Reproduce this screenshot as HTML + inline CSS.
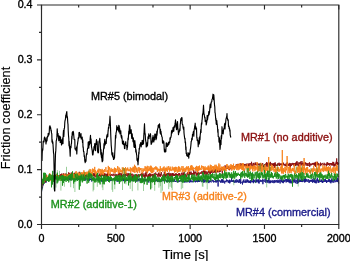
<!DOCTYPE html><html><head><meta charset="utf-8"><style>html,body{margin:0;padding:0;background:#fff;width:350px;height:261px;overflow:hidden}svg{display:block;will-change:transform}text{font-family:"Liberation Sans",sans-serif}</style></head><body><svg width="350" height="261" viewBox="0 0 350 261"><rect width="350" height="261" fill="#fff"/><g fill="none" stroke-width="0.9" stroke-linejoin="round"><polyline stroke="#181888" points="41.5,192.0 41.7,191.0 41.9,189.3 42.1,189.2 42.3,187.4 42.5,188.1 42.7,186.6 42.9,185.8 43.1,184.5 43.3,185.2 43.5,181.9 43.7,182.5 43.9,183.2 44.1,183.1 44.3,183.3 44.5,182.2 44.7,180.9 44.9,181.0 45.1,180.9 45.3,181.2 45.5,182.3 45.7,180.8 45.9,181.6 46.1,182.6 46.3,181.2 46.5,180.6 46.7,180.8 46.9,180.3 47.1,179.3 47.3,180.5 47.5,179.4 47.7,180.2 47.9,179.4 48.1,179.9 48.3,180.1 48.5,179.7 48.7,180.6 48.9,179.4 49.1,178.5 49.3,179.8 49.5,178.7 49.7,179.2 49.9,178.5 50.1,179.3 50.3,179.6 50.5,178.4 50.7,178.1 50.9,179.0 51.1,178.7 51.3,179.0 51.5,178.5 51.7,179.6 51.9,178.6 52.1,177.7 52.3,179.8 52.5,178.0 52.7,178.0 52.9,179.1 53.1,178.6 53.3,177.8 53.5,178.5 53.7,180.4 53.9,178.5 54.1,178.9 54.3,178.9 54.5,179.0 54.7,177.5 54.9,179.5 55.1,178.1 55.3,178.7 55.5,178.4 55.7,178.1 55.9,177.8 56.1,177.6 56.3,177.9 56.5,177.6 56.7,178.4 56.9,179.4 57.1,179.6 57.3,179.0 57.5,179.8 57.7,179.4 57.9,179.6 58.1,177.4 58.3,178.7 58.5,177.8 58.7,178.4 58.9,178.5 59.1,177.5 59.3,178.5 59.5,178.5 59.7,176.4 59.9,179.3 60.1,178.5 60.3,178.0 60.5,178.9 60.7,178.5 60.9,179.2 61.1,178.3 61.3,179.0 61.5,179.6 61.7,178.7 61.9,177.7 62.1,179.2 62.3,180.6 62.5,178.2 62.7,178.4 62.9,177.9 63.1,178.6 63.3,177.0 63.5,179.8 63.7,179.1 63.9,179.0 64.1,178.7 64.3,178.0 64.5,181.0 64.7,178.8 64.9,178.6 65.1,178.0 65.3,178.6 65.5,178.7 65.7,179.7 65.9,178.8 66.1,178.5 66.3,179.7 66.5,177.6 66.7,178.8 66.9,178.6 67.1,178.1 67.3,179.0 67.5,180.5 67.7,180.7 67.9,180.1 68.1,178.5 68.3,179.1 68.5,177.6 68.7,178.8 68.9,179.0 69.1,178.0 69.3,179.3 69.5,180.1 69.7,178.9 69.9,178.7 70.1,178.0 70.3,179.1 70.5,178.2 70.7,180.3 70.9,180.1 71.1,178.3 71.3,177.6 71.5,177.6 71.7,178.3 71.9,178.7 72.1,178.9 72.3,178.2 72.5,178.6 72.7,179.3 72.9,177.8 73.1,179.3 73.3,179.4 73.5,177.6 73.7,177.3 73.9,177.1 74.1,178.6 74.3,178.6 74.5,178.3 74.7,178.1 74.9,179.9 75.1,177.9 75.3,178.5 75.5,179.0 75.7,179.3 75.9,179.7 76.1,179.2 76.3,179.9 76.5,177.6 76.7,178.8 76.9,177.7 77.1,178.4 77.3,177.3 77.5,178.4 77.7,178.3 77.9,179.3 78.1,179.4 78.3,179.2 78.5,179.9 78.7,178.7 78.9,179.4 79.1,179.4 79.3,179.0 79.5,179.3 79.7,177.8 79.9,179.0 80.1,177.5 80.3,179.2 80.5,180.1 80.7,179.4 80.9,178.8 81.1,179.7 81.3,178.4 81.5,176.6 81.7,178.4 81.9,179.1 82.1,178.6 82.3,179.3 82.5,179.1 82.7,177.7 82.9,179.0 83.1,177.5 83.3,178.3 83.5,178.5 83.7,178.6 83.9,180.3 84.1,178.5 84.3,179.2 84.5,178.3 84.7,178.8 84.9,178.4 85.1,180.6 85.3,180.7 85.5,180.1 85.7,178.5 85.9,178.9 86.1,179.1 86.3,179.1 86.5,178.6 86.7,178.6 86.9,179.4 87.1,178.9 87.3,179.3 87.5,180.4 87.7,179.2 87.9,179.1 88.1,178.1 88.3,178.6 88.5,180.1 88.7,178.3 88.9,178.4 89.1,181.1 89.3,179.8 89.5,178.0 89.7,178.3 89.9,180.2 90.1,179.3 90.3,178.9 90.5,178.8 90.7,180.0 90.9,178.9 91.1,179.2 91.3,178.7 91.5,179.4 91.7,181.5 91.9,178.5 92.1,179.8 92.3,178.2 92.5,179.7 92.7,179.4 92.9,178.5 93.1,177.9 93.3,179.0 93.5,179.9 93.7,178.9 93.9,179.7 94.1,179.9 94.3,178.7 94.5,179.0 94.7,181.0 94.9,179.2 95.1,180.6 95.3,180.6 95.5,179.0 95.7,180.2 95.9,179.2 96.1,180.2 96.3,178.7 96.5,178.9 96.7,179.1 96.9,179.7 97.1,179.4 97.3,178.7 97.5,178.9 97.7,180.5 97.9,178.5 98.1,179.1 98.3,178.3 98.5,181.1 98.7,179.3 98.9,179.2 99.1,179.4 99.3,180.1 99.5,180.3 99.7,178.5 99.9,178.1 100.1,178.5 100.3,179.5 100.5,178.4 100.7,179.8 100.9,178.8 101.1,181.0 101.3,180.6 101.5,179.7 101.7,181.7 101.9,180.7 102.1,179.0 102.3,179.6 102.5,178.0 102.7,179.2 102.9,180.3 103.1,179.4 103.3,181.0 103.5,179.6 103.7,178.7 103.9,178.7 104.1,179.2 104.3,180.0 104.5,179.1 104.7,180.9 104.9,179.9 105.1,181.3 105.3,178.9 105.5,181.0 105.7,179.4 105.9,179.7 106.1,180.0 106.3,179.9 106.5,179.3 106.7,178.7 106.9,180.1 107.1,180.1 107.3,180.5 107.5,180.5 107.7,181.0 107.9,179.0 108.1,179.6 108.3,179.6 108.5,180.6 108.7,180.4 108.9,179.8 109.1,178.6 109.3,178.9 109.5,180.8 109.7,178.8 109.9,180.3 110.1,178.6 110.3,181.1 110.5,178.5 110.7,178.8 110.9,180.3 111.1,179.7 111.3,179.6 111.5,179.7 111.7,180.7 111.9,179.6 112.1,180.1 112.3,179.0 112.5,179.4 112.7,180.1 112.9,179.4 113.1,178.8 113.3,179.4 113.5,178.6 113.7,179.2 113.9,179.9 114.1,179.5 114.3,179.0 114.5,180.8 114.7,179.6 114.9,178.2 115.1,180.3 115.3,179.2 115.5,179.6 115.7,179.5 115.9,179.3 116.1,180.2 116.3,180.2 116.5,179.3 116.7,179.1 116.9,180.6 117.1,181.8 117.3,180.3 117.5,181.2 117.7,178.9 117.9,179.0 118.1,180.2 118.3,179.7 118.5,178.7 118.7,181.4 118.9,181.7 119.1,179.6 119.3,179.7 119.5,180.3 119.7,179.9 119.9,179.8 120.1,179.2 120.3,179.3 120.5,179.3 120.7,179.4 120.9,178.8 121.1,178.6 121.3,180.0 121.5,179.8 121.7,179.8 121.9,179.7 122.1,179.5 122.3,179.4 122.5,178.0 122.7,179.7 122.9,179.0 123.1,180.5 123.3,181.1 123.5,180.4 123.7,178.1 123.9,180.8 124.1,179.0 124.3,181.2 124.5,180.4 124.7,179.4 124.9,180.4 125.1,180.5 125.3,179.1 125.5,179.6 125.7,180.8 125.9,180.4 126.1,180.3 126.3,181.1 126.5,180.6 126.7,179.3 126.9,178.5 127.1,179.9 127.3,181.0 127.5,180.5 127.7,179.2 127.9,178.8 128.1,180.8 128.3,179.6 128.5,179.4 128.7,178.8 128.9,180.5 129.1,179.0 129.3,178.3 129.5,179.5 129.7,180.2 129.9,179.1 130.1,179.9 130.3,179.5 130.5,179.7 130.7,180.3 130.9,178.6 131.1,180.0 131.3,179.4 131.5,180.2 131.7,179.8 131.9,180.0 132.1,181.1 132.3,178.3 132.5,180.9 132.7,180.6 132.9,181.1 133.1,180.7 133.3,179.5 133.5,180.7 133.7,180.9 133.9,180.3 134.1,177.5 134.3,180.1 134.5,180.3 134.7,180.9 134.9,180.5 135.1,180.4 135.3,178.8 135.5,180.3 135.7,179.7 135.9,179.3 136.1,181.6 136.3,179.9 136.5,179.9 136.7,178.5 136.9,178.9 137.1,181.5 137.3,179.5 137.5,179.5 137.7,178.6 137.9,180.3 138.1,178.4 138.3,180.0 138.5,179.0 138.7,180.5 138.9,181.3 139.1,179.5 139.3,180.4 139.5,180.6 139.7,180.2 139.9,179.6 140.1,178.3 140.3,179.9 140.5,181.0 140.7,179.9 140.9,178.8 141.1,179.9 141.3,179.0 141.5,179.1 141.7,181.5 141.9,179.9 142.1,181.0 142.3,181.7 142.5,181.5 142.7,178.7 142.9,181.7 143.1,178.9 143.3,179.7 143.5,180.2 143.7,180.5 143.9,181.5 144.1,179.5 144.3,179.3 144.5,180.6 144.7,179.4 144.9,180.2 145.1,180.9 145.3,178.8 145.5,181.3 145.7,180.4 145.9,180.8 146.1,179.6 146.3,180.7 146.5,180.2 146.7,180.1 146.9,179.5 147.1,179.5 147.3,180.7 147.5,181.3 147.7,179.7 147.9,180.6 148.1,179.3 148.3,182.5 148.5,180.4 148.7,180.0 148.9,180.4 149.1,180.2 149.3,179.6 149.5,180.0 149.7,180.0 149.9,178.4 150.1,179.5 150.3,183.0 150.5,179.6 150.7,181.4 150.9,180.2 151.1,181.0 151.3,178.7 151.5,179.7 151.7,180.2 151.9,180.5 152.1,180.7 152.3,180.0 152.5,180.0 152.7,180.6 152.9,180.2 153.1,181.2 153.3,179.5 153.5,181.6 153.7,180.6 153.9,179.2 154.1,178.4 154.3,180.4 154.5,181.6 154.7,180.0 154.9,181.8 155.1,180.8 155.3,180.9 155.5,181.2 155.7,179.8 155.9,180.3 156.1,180.3 156.3,179.9 156.5,180.3 156.7,181.0 156.9,179.4 157.1,179.2 157.3,181.3 157.5,180.3 157.7,179.4 157.9,181.8 158.1,180.5 158.3,179.5 158.5,180.4 158.7,181.3 158.9,181.7 159.1,179.9 159.3,181.5 159.5,181.0 159.7,179.9 159.9,181.3 160.1,180.5 160.3,180.7 160.5,181.0 160.7,180.5 160.9,179.8 161.1,179.8 161.3,179.7 161.5,179.7 161.7,181.5 161.9,179.6 162.1,180.7 162.3,180.5 162.5,180.8 162.7,180.7 162.9,178.5 163.1,180.0 163.3,179.5 163.5,181.1 163.7,180.0 163.9,179.8 164.1,181.2 164.3,180.8 164.5,180.7 164.7,179.0 164.9,179.0 165.1,179.9 165.3,180.6 165.5,181.1 165.7,180.3 165.9,180.1 166.1,181.2 166.3,181.9 166.5,181.1 166.7,180.4 166.9,180.1 167.1,182.0 167.3,181.2 167.5,179.4 167.7,180.2 167.9,181.7 168.1,180.4 168.3,180.4 168.5,181.5 168.7,180.4 168.9,180.1 169.1,180.8 169.3,180.8 169.5,181.0 169.7,181.3 169.9,182.1 170.1,180.5 170.3,179.0 170.5,180.3 170.7,181.6 170.9,180.5 171.1,181.5 171.3,180.4 171.5,180.5 171.7,181.2 171.9,180.1 172.1,180.7 172.3,179.6 172.5,181.5 172.7,179.5 172.9,180.7 173.1,180.9 173.3,181.5 173.5,180.7 173.7,181.4 173.9,180.2 174.1,180.6 174.3,180.9 174.5,179.1 174.7,181.5 174.9,180.8 175.1,181.3 175.3,182.0 175.5,181.2 175.7,181.3 175.9,181.5 176.1,180.8 176.3,180.8 176.5,181.4 176.7,181.1 176.9,181.4 177.1,181.5 177.3,182.4 177.5,181.8 177.7,180.5 177.9,180.8 178.1,180.4 178.3,181.5 178.5,182.1 178.7,181.1 178.9,181.4 179.1,180.7 179.3,181.7 179.5,180.7 179.7,181.2 179.9,180.9 180.1,180.9 180.3,180.0 180.5,180.9 180.7,180.5 180.9,180.9 181.1,181.0 181.3,181.4 181.5,180.7 181.7,180.7 181.9,180.9 182.1,181.5 182.3,182.1 182.5,182.2 182.7,181.0 182.9,180.6 183.1,181.1 183.3,180.8 183.5,180.1 183.7,181.4 183.9,181.8 184.1,181.3 184.3,181.0 184.5,181.8 184.7,180.9 184.9,182.7 185.1,180.8 185.3,181.7 185.5,180.9 185.7,180.8 185.9,181.7 186.1,182.0 186.3,182.3 186.5,182.2 186.7,180.3 186.9,181.5 187.1,181.8 187.3,181.9 187.5,180.2 187.7,182.1 187.9,182.3 188.1,180.8 188.3,181.5 188.5,180.7 188.7,180.5 188.9,181.3 189.1,180.8 189.3,181.3 189.5,182.5 189.7,181.6 189.9,179.9 190.1,180.3 190.3,181.4 190.5,182.2 190.7,179.7 190.9,181.2 191.1,181.2 191.3,181.6 191.5,181.7 191.7,180.9 191.9,180.8 192.1,182.4 192.3,180.8 192.5,181.0 192.7,181.5 192.9,181.2 193.1,180.8 193.3,180.3 193.5,179.4 193.7,180.5 193.9,182.1 194.1,181.6 194.3,180.0 194.5,180.9 194.7,181.0 194.9,180.8 195.1,181.7 195.3,181.0 195.5,182.3 195.7,181.9 195.9,180.6 196.1,180.1 196.3,181.6 196.5,180.5 196.7,181.1 196.9,181.8 197.1,181.3 197.3,180.2 197.5,182.2 197.7,180.0 197.9,180.9 198.1,181.9 198.3,179.3 198.5,181.2 198.7,180.5 198.9,182.0 199.1,181.1 199.3,180.3 199.5,182.0 199.7,180.5 199.9,180.4 200.1,180.6 200.3,179.5 200.5,180.5 200.7,181.3 200.9,180.6 201.1,180.5 201.3,180.9 201.5,180.7 201.7,182.2 201.9,182.0 202.1,181.6 202.3,180.0 202.5,180.5 202.7,181.4 202.9,180.1 203.1,179.1 203.3,180.6 203.5,179.7 203.7,182.7 203.9,179.4 204.1,180.0 204.3,179.8 204.5,182.3 204.7,181.2 204.9,181.8 205.1,180.8 205.3,180.1 205.5,180.8 205.7,181.2 205.9,181.4 206.1,179.8 206.3,182.2 206.5,181.6 206.7,181.0 206.9,181.1 207.1,180.0 207.3,180.3 207.5,180.3 207.7,179.7 207.9,180.6 208.1,180.3 208.3,182.6 208.5,180.9 208.7,180.3 208.9,183.1 209.1,181.2 209.3,181.8 209.5,182.1 209.7,180.6 209.9,181.3 210.1,180.6 210.3,180.8 210.5,181.8 210.7,181.2 210.9,180.5 211.1,182.3 211.3,182.4 211.5,182.2 211.7,182.0 211.9,181.7 212.1,179.7 212.3,180.8 212.5,180.9 212.7,180.1 212.9,181.2 213.1,181.7 213.3,181.7 213.5,180.5 213.7,182.5 213.9,181.1 214.1,180.9 214.3,181.7 214.5,181.5 214.7,181.4 214.9,181.0 215.1,182.1 215.3,181.6 215.5,179.7 215.7,181.7 215.9,182.4 216.1,179.8 216.3,182.4 216.5,181.6 216.7,181.2 216.9,180.9 217.1,180.5 217.3,181.8 217.5,179.8 217.7,179.7 217.9,180.2 218.1,186.5 218.3,180.5 218.5,180.8 218.7,179.6 218.9,180.6 219.1,181.3 219.3,180.8 219.5,180.1 219.7,180.6 219.9,181.5 220.1,180.8 220.3,181.2 220.5,182.6 220.7,180.9 220.9,180.9 221.1,181.9 221.3,180.4 221.5,181.1 221.7,179.2 221.9,182.8 222.1,181.7 222.3,182.1 222.5,179.3 222.7,182.5 222.9,181.9 223.1,180.3 223.3,180.5 223.5,180.6 223.7,182.6 223.9,181.7 224.1,180.7 224.3,181.3 224.5,181.8 224.7,183.5 224.9,181.8 225.1,181.2 225.3,181.7 225.5,181.9 225.7,180.8 225.9,181.3 226.1,182.2 226.3,180.7 226.5,179.5 226.7,180.8 226.9,179.7 227.1,181.2 227.3,180.4 227.5,180.7 227.7,180.2 227.9,181.0 228.1,182.4 228.3,180.6 228.5,181.0 228.7,182.1 228.9,182.9 229.1,180.6 229.3,182.3 229.5,179.7 229.7,183.4 229.9,181.2 230.1,182.4 230.3,180.7 230.5,180.4 230.7,180.9 230.9,181.3 231.1,182.0 231.3,181.6 231.5,177.0 231.7,181.3 231.9,180.9 232.1,181.5 232.3,181.3 232.5,181.3 232.7,181.9 232.9,180.1 233.1,182.0 233.3,180.0 233.5,180.4 233.7,182.2 233.9,180.3 234.1,181.0 234.3,182.3 234.5,182.8 234.7,181.9 234.9,181.4 235.1,180.7 235.3,181.4 235.5,180.5 235.7,182.6 235.9,180.0 236.1,179.7 236.3,179.2 236.5,182.4 236.7,181.7 236.9,182.0 237.1,181.8 237.3,180.5 237.5,181.9 237.7,180.5 237.9,179.7 238.1,182.3 238.3,182.8 238.5,181.5 238.7,180.6 238.9,182.4 239.1,182.2 239.3,181.4 239.5,179.0 239.7,182.6 239.9,181.6 240.1,180.8 240.3,181.3 240.5,183.6 240.7,179.1 240.9,182.3 241.1,183.1 241.3,182.9 241.5,183.0 241.7,182.7 241.9,182.9 242.1,181.9 242.3,182.2 242.5,184.5 242.7,181.5 242.9,182.2 243.1,181.5 243.3,180.3 243.5,182.4 243.7,181.1 243.9,179.4 244.1,182.4 244.3,181.9 244.5,182.3 244.7,181.6 244.9,181.2 245.1,182.5 245.3,182.5 245.5,180.7 245.7,182.7 245.9,181.2 246.1,179.4 246.3,180.9 246.5,182.1 246.7,182.6 246.9,180.8 247.1,181.5 247.3,181.8 247.5,179.5 247.7,182.1 247.9,181.2 248.1,180.3 248.3,182.7 248.5,181.8 248.7,180.7 248.9,180.9 249.1,181.0 249.3,182.9 249.5,180.8 249.7,181.2 249.9,182.0 250.1,182.8 250.3,182.0 250.5,183.2 250.7,180.0 250.9,182.0 251.1,181.9 251.3,181.4 251.5,181.4 251.7,182.3 251.9,181.9 252.1,181.0 252.3,181.3 252.5,181.9 252.7,180.4 252.9,181.2 253.1,182.6 253.3,180.9 253.5,183.2 253.7,179.1 253.9,181.3 254.1,181.2 254.3,180.3 254.5,181.8 254.7,181.8 254.9,180.5 255.1,180.4 255.3,182.7 255.5,181.5 255.7,182.2 255.9,182.0 256.1,179.5 256.3,182.2 256.5,182.4 256.7,179.5 256.9,181.0 257.1,180.7 257.3,181.7 257.5,181.8 257.7,182.2 257.9,179.7 258.1,181.3 258.3,179.3 258.5,183.1 258.7,180.5 258.9,180.2 259.1,183.5 259.3,181.5 259.5,181.1 259.7,181.6 259.9,181.0 260.1,179.7 260.3,181.6 260.5,180.4 260.7,180.2 260.9,181.4 261.1,181.7 261.3,180.2 261.5,180.9 261.7,181.5 261.9,181.8 262.1,182.1 262.3,181.0 262.5,179.4 262.7,181.6 262.9,184.2 263.1,182.0 263.3,179.7 263.5,180.2 263.7,179.9 263.9,181.0 264.1,181.6 264.3,181.8 264.5,181.7 264.7,180.4 264.9,180.1 265.1,178.8 265.3,181.5 265.5,182.6 265.7,180.8 265.9,179.4 266.1,179.8 266.3,181.1 266.5,181.1 266.7,180.0 266.9,182.2 267.1,182.8 267.3,180.0 267.5,181.8 267.7,180.4 267.9,181.4 268.1,182.6 268.3,180.6 268.5,181.1 268.7,178.2 268.9,179.3 269.1,183.3 269.3,181.5 269.5,182.2 269.7,180.4 269.9,180.9 270.1,183.1 270.3,180.9 270.5,183.1 270.7,180.6 270.9,181.5 271.1,181.9 271.3,180.8 271.5,181.8 271.7,182.4 271.9,181.6 272.1,182.1 272.3,180.3 272.5,181.2 272.7,182.9 272.9,182.5 273.1,182.2 273.3,182.1 273.5,181.2 273.7,180.5 273.9,183.2 274.1,181.4 274.3,180.5 274.5,180.3 274.7,182.8 274.9,181.7 275.1,180.3 275.3,180.8 275.5,181.0 275.7,182.3 275.9,180.5 276.1,180.6 276.3,180.8 276.5,181.2 276.7,180.2 276.9,182.5 277.1,181.9 277.3,180.8 277.5,182.5 277.7,182.0 277.9,179.7 278.1,180.3 278.3,182.1 278.5,182.7 278.7,182.2 278.9,180.5 279.1,182.3 279.3,180.4 279.5,179.7 279.7,179.7 279.9,180.7 280.1,183.5 280.3,181.3 280.5,180.5 280.7,181.1 280.9,180.3 281.1,177.4 281.3,182.2 281.5,180.4 281.7,181.9 281.9,182.1 282.1,180.6 282.3,180.9 282.5,182.5 282.7,180.8 282.9,182.5 283.1,180.2 283.3,183.2 283.5,179.8 283.7,180.8 283.9,180.6 284.1,181.9 284.3,182.0 284.5,180.1 284.7,179.6 284.9,181.3 285.1,181.5 285.3,181.0 285.5,179.3 285.7,179.8 285.9,180.1 286.1,182.5 286.3,182.2 286.5,179.0 286.7,180.3 286.9,181.8 287.1,181.8 287.3,180.2 287.5,179.4 287.7,181.9 287.9,181.6 288.1,179.1 288.3,181.7 288.5,181.2 288.7,181.7 288.9,178.7 289.1,182.7 289.3,179.8 289.5,181.6 289.7,182.2 289.9,180.4 290.1,183.3 290.3,179.3 290.5,180.4 290.7,182.6 290.9,181.0 291.1,183.0 291.3,183.3 291.5,183.2 291.7,181.0 291.9,180.3 292.1,180.2 292.3,182.2 292.5,182.5 292.7,181.6 292.9,180.7 293.1,181.0 293.3,179.7 293.5,180.1 293.7,181.5 293.9,182.7 294.1,179.8 294.3,182.0 294.5,182.0 294.7,180.4 294.9,178.4 295.1,180.9 295.3,182.0 295.5,183.2 295.7,181.5 295.9,180.3 296.1,181.2 296.3,180.7 296.5,181.4 296.7,180.6 296.9,181.5 297.1,184.0 297.3,178.3 297.5,182.9 297.7,182.0 297.9,180.6 298.1,183.2 298.3,181.4 298.5,181.1 298.7,180.1 298.9,182.3 299.1,180.1 299.3,179.5 299.5,180.3 299.7,181.9 299.9,180.9 300.1,179.4 300.3,179.6 300.5,181.9 300.7,180.1 300.9,180.7 301.1,179.9 301.3,182.0 301.5,178.4 301.7,181.9 301.9,179.4 302.1,180.0 302.3,182.1 302.5,180.2 302.7,179.5 302.9,181.5 303.1,179.6 303.3,179.4 303.5,179.7 303.7,181.3 303.9,181.6 304.1,181.8 304.3,182.1 304.5,178.9 304.7,182.4 304.9,181.8 305.1,177.8 305.3,182.1 305.5,181.1 305.7,178.7 305.9,179.6 306.1,181.8 306.3,180.8 306.5,181.0 306.7,179.1 306.9,179.3 307.1,179.3 307.3,181.2 307.5,181.4 307.7,181.8 307.9,180.6 308.1,181.5 308.3,180.8 308.5,179.4 308.7,180.7 308.9,181.7 309.1,183.0 309.3,181.0 309.5,181.7 309.7,180.2 309.9,180.3 310.1,181.2 310.3,179.9 310.5,181.2 310.7,181.6 310.9,180.0 311.1,181.5 311.3,180.8 311.5,179.8 311.7,181.5 311.9,181.6 312.1,179.9 312.3,181.3 312.5,181.0 312.7,182.8 312.9,178.7 313.1,181.5 313.3,180.8 313.5,180.3 313.7,182.0 313.9,181.0 314.1,182.1 314.3,178.5 314.5,182.6 314.7,182.6 314.9,181.6 315.1,181.5 315.3,180.4 315.5,183.1 315.7,181.4 315.9,180.6 316.1,180.1 316.3,183.3 316.5,182.5 316.7,180.1 316.9,179.4 317.1,180.0 317.3,177.7 317.5,181.1 317.7,179.9 317.9,181.0 318.1,182.8 318.3,181.0 318.5,182.3 318.7,179.7 318.9,182.7 319.1,182.2 319.3,179.8 319.5,179.9 319.7,180.9 319.9,181.7 320.1,180.6 320.3,182.0 320.5,181.5 320.7,181.3 320.9,181.9 321.1,179.5 321.3,179.8 321.5,181.8 321.7,179.7 321.9,181.6 322.1,181.2 322.3,183.0 322.5,180.6 322.7,183.0 322.9,182.2 323.1,181.1 323.3,180.6 323.5,181.0 323.7,182.0 323.9,180.9 324.1,179.2 324.3,181.1 324.5,181.8 324.7,180.7 324.9,180.7 325.1,179.1 325.3,181.5 325.5,179.3 325.7,181.8 325.9,181.3 326.1,180.5 326.3,180.2 326.5,182.9 326.7,180.6 326.9,182.3 327.1,180.7 327.3,181.6 327.5,181.3 327.7,181.4 327.9,181.8 328.1,180.1 328.3,181.9 328.5,180.4 328.7,179.2 328.9,181.1 329.1,179.9 329.3,179.1 329.5,181.8 329.7,179.7 329.9,179.5 330.1,182.4 330.3,182.8 330.5,180.6 330.7,180.0 330.9,183.3 331.1,181.0 331.3,180.3 331.5,181.8 331.7,178.4 331.9,178.5 332.1,182.3 332.3,179.8 332.5,180.0 332.7,180.0 332.9,182.1 333.1,181.9 333.3,182.7 333.5,180.6 333.7,180.0 333.9,180.4 334.1,180.2 334.3,179.2 334.5,180.6 334.7,179.2 334.9,182.4 335.1,180.5 335.3,180.8 335.5,181.5 335.7,181.3 335.9,181.4 336.1,180.7 336.3,181.5 336.5,179.4 336.7,180.7 336.9,180.3 337.1,182.1 337.3,180.3 337.5,181.7 337.7,177.6 337.9,181.6 338.1,179.6 338.3,179.7 338.5,181.4 338.7,183.7"/><polyline stroke="#8b1010" points="41.5,188.4 41.7,189.3 41.9,186.0 42.1,186.5 42.3,183.8 42.5,182.6 42.7,185.1 42.9,183.2 43.1,184.1 43.3,179.3 43.5,178.6 43.7,178.7 43.9,178.8 44.1,179.3 44.3,176.0 44.5,179.2 44.7,176.4 44.9,178.2 45.1,182.5 45.3,178.1 45.5,177.8 45.7,179.0 45.9,178.2 46.1,176.7 46.3,174.7 46.5,177.3 46.7,176.5 46.9,179.3 47.1,178.5 47.3,179.7 47.5,179.1 47.7,177.9 47.9,177.6 48.1,177.5 48.3,177.3 48.5,176.8 48.7,177.7 48.9,176.2 49.1,177.5 49.3,177.4 49.5,173.6 49.7,174.9 49.9,179.1 50.1,177.3 50.3,178.1 50.5,178.3 50.7,177.8 50.9,176.0 51.1,177.0 51.3,176.9 51.5,178.3 51.7,178.2 51.9,175.6 52.1,178.1 52.3,175.3 52.5,175.5 52.7,175.0 52.9,176.1 53.1,177.1 53.3,176.9 53.5,176.6 53.7,178.8 53.9,177.9 54.1,175.7 54.3,177.2 54.5,176.4 54.7,176.1 54.9,176.1 55.1,176.4 55.3,175.9 55.5,177.3 55.7,176.6 55.9,176.8 56.1,176.6 56.3,176.0 56.5,174.6 56.7,177.4 56.9,175.4 57.1,177.7 57.3,176.4 57.5,175.7 57.7,176.6 57.9,175.6 58.1,176.1 58.3,178.1 58.5,178.2 58.7,175.2 58.9,175.8 59.1,177.2 59.3,175.9 59.5,175.4 59.7,175.7 59.9,176.3 60.1,176.2 60.3,177.3 60.5,174.7 60.7,174.0 60.9,175.1 61.1,175.7 61.3,175.6 61.5,175.8 61.7,173.6 61.9,175.0 62.1,176.0 62.3,175.5 62.5,174.3 62.7,175.5 62.9,176.8 63.1,176.2 63.3,173.4 63.5,176.0 63.7,178.3 63.9,173.8 64.1,177.7 64.3,177.8 64.5,175.1 64.7,177.6 64.9,174.3 65.1,174.5 65.3,173.6 65.5,174.4 65.7,177.6 65.9,175.0 66.1,174.5 66.3,173.7 66.5,174.7 66.7,175.5 66.9,174.4 67.1,176.1 67.3,175.3 67.5,174.6 67.7,174.4 67.9,175.8 68.1,174.5 68.3,175.1 68.5,175.3 68.7,172.3 68.9,174.6 69.1,176.8 69.3,177.5 69.5,173.1 69.7,176.8 69.9,176.3 70.1,177.9 70.3,174.5 70.5,174.1 70.7,173.7 70.9,178.6 71.1,176.2 71.3,172.5 71.5,174.9 71.7,175.7 71.9,176.3 72.1,174.9 72.3,175.0 72.5,175.3 72.7,174.9 72.9,178.2 73.1,175.0 73.3,175.5 73.5,176.6 73.7,174.6 73.9,173.4 74.1,175.1 74.3,173.6 74.5,174.4 74.7,173.0 74.9,174.4 75.1,172.5 75.3,175.1 75.5,177.8 75.7,174.6 75.9,176.3 76.1,176.6 76.3,174.8 76.5,175.6 76.7,174.9 76.9,175.2 77.1,175.9 77.3,175.2 77.5,176.6 77.7,174.7 77.9,174.5 78.1,175.8 78.3,177.7 78.5,173.5 78.7,176.3 78.9,176.1 79.1,174.2 79.3,171.8 79.5,176.3 79.7,175.3 79.9,173.7 80.1,175.3 80.3,173.8 80.5,173.8 80.7,177.1 80.9,175.5 81.1,172.7 81.3,174.6 81.5,175.6 81.7,176.8 81.9,176.8 82.1,174.3 82.3,173.0 82.5,173.6 82.7,175.4 82.9,175.8 83.1,176.3 83.3,175.9 83.5,173.3 83.7,174.7 83.9,175.4 84.1,174.6 84.3,175.7 84.5,174.1 84.7,172.6 84.9,179.1 85.1,174.9 85.3,175.2 85.5,176.4 85.7,174.3 85.9,175.5 86.1,175.8 86.3,174.6 86.5,174.8 86.7,176.2 86.9,175.9 87.1,175.5 87.3,176.4 87.5,175.6 87.7,176.4 87.9,176.7 88.1,174.3 88.3,174.9 88.5,175.6 88.7,177.7 88.9,173.5 89.1,174.1 89.3,174.5 89.5,176.7 89.7,176.6 89.9,175.9 90.1,176.0 90.3,174.4 90.5,175.5 90.7,175.4 90.9,174.1 91.1,177.9 91.3,174.9 91.5,176.2 91.7,174.8 91.9,175.3 92.1,175.6 92.3,175.2 92.5,175.7 92.7,175.6 92.9,175.5 93.1,172.9 93.3,175.0 93.5,175.0 93.7,176.1 93.9,173.7 94.1,175.9 94.3,173.3 94.5,175.7 94.7,176.3 94.9,174.7 95.1,177.6 95.3,174.6 95.5,173.7 95.7,175.7 95.9,174.4 96.1,176.5 96.3,176.8 96.5,174.2 96.7,175.3 96.9,173.3 97.1,174.9 97.3,174.6 97.5,173.2 97.7,174.0 97.9,175.4 98.1,177.1 98.3,175.6 98.5,175.2 98.7,177.0 98.9,177.6 99.1,176.3 99.3,175.4 99.5,174.5 99.7,175.6 99.9,173.5 100.1,175.9 100.3,173.6 100.5,176.6 100.7,174.8 100.9,175.7 101.1,174.5 101.3,176.5 101.5,173.4 101.7,173.7 101.9,174.9 102.1,176.0 102.3,174.5 102.5,174.3 102.7,176.0 102.9,175.1 103.1,175.2 103.3,176.1 103.5,175.5 103.7,175.9 103.9,174.3 104.1,176.0 104.3,176.7 104.5,173.3 104.7,176.2 104.9,173.2 105.1,174.5 105.3,175.5 105.5,174.2 105.7,174.5 105.9,175.8 106.1,176.8 106.3,174.3 106.5,176.5 106.7,175.7 106.9,173.8 107.1,174.0 107.3,177.7 107.5,172.9 107.7,175.2 107.9,175.5 108.1,177.0 108.3,174.5 108.5,176.4 108.7,174.7 108.9,174.1 109.1,174.2 109.3,175.4 109.5,174.6 109.7,175.1 109.9,174.4 110.1,173.6 110.3,174.3 110.5,176.1 110.7,175.4 110.9,175.6 111.1,175.5 111.3,174.3 111.5,175.1 111.7,175.4 111.9,174.2 112.1,174.6 112.3,175.1 112.5,175.8 112.7,174.8 112.9,174.7 113.1,174.8 113.3,173.7 113.5,174.0 113.7,175.5 113.9,176.2 114.1,176.3 114.3,174.9 114.5,174.9 114.7,175.1 114.9,175.3 115.1,173.6 115.3,175.5 115.5,175.8 115.7,175.2 115.9,175.2 116.1,176.0 116.3,174.6 116.5,176.4 116.7,176.3 116.9,174.2 117.1,176.8 117.3,177.6 117.5,176.7 117.7,175.4 117.9,175.6 118.1,176.4 118.3,173.7 118.5,175.5 118.7,172.9 118.9,176.9 119.1,176.8 119.3,174.7 119.5,172.6 119.7,177.1 119.9,177.4 120.1,176.7 120.3,176.8 120.5,177.0 120.7,175.6 120.9,173.0 121.1,177.3 121.3,173.6 121.5,175.3 121.7,176.6 121.9,175.4 122.1,174.6 122.3,176.7 122.5,176.9 122.7,176.9 122.9,175.8 123.1,175.9 123.3,174.9 123.5,174.1 123.7,174.2 123.9,177.2 124.1,176.4 124.3,176.1 124.5,175.4 124.7,175.6 124.9,173.9 125.1,172.2 125.3,175.4 125.5,173.9 125.7,176.2 125.9,175.8 126.1,175.5 126.3,174.4 126.5,173.4 126.7,172.9 126.9,176.2 127.1,175.2 127.3,176.0 127.5,176.5 127.7,173.6 127.9,173.2 128.1,173.1 128.3,175.4 128.5,173.7 128.7,174.9 128.9,175.8 129.1,173.5 129.3,175.7 129.5,176.8 129.7,176.5 129.9,175.7 130.1,176.1 130.3,175.2 130.5,174.8 130.7,173.3 130.9,176.3 131.1,176.0 131.3,175.1 131.5,174.9 131.7,174.0 131.9,175.1 132.1,173.6 132.3,175.5 132.5,179.2 132.7,175.8 132.9,176.4 133.1,175.7 133.3,176.5 133.5,175.2 133.7,174.5 133.9,175.6 134.1,177.2 134.3,176.4 134.5,178.3 134.7,177.0 134.9,174.8 135.1,175.6 135.3,174.7 135.5,175.2 135.7,175.9 135.9,176.5 136.1,174.5 136.3,174.0 136.5,174.8 136.7,176.5 136.9,177.3 137.1,180.6 137.3,177.9 137.5,175.9 137.7,174.7 137.9,176.3 138.1,175.6 138.3,174.9 138.5,174.5 138.7,174.2 138.9,176.7 139.1,175.9 139.3,176.9 139.5,174.8 139.7,175.2 139.9,174.4 140.1,175.0 140.3,175.2 140.5,174.9 140.7,174.2 140.9,175.7 141.1,175.6 141.3,173.3 141.5,176.8 141.7,173.3 141.9,172.9 142.1,174.3 142.3,172.9 142.5,176.6 142.7,175.0 142.9,172.7 143.1,175.5 143.3,174.4 143.5,176.5 143.7,176.5 143.9,177.3 144.1,176.1 144.3,175.0 144.5,176.7 144.7,178.3 144.9,173.6 145.1,173.4 145.3,176.5 145.5,172.9 145.7,174.3 145.9,176.6 146.1,171.5 146.3,176.2 146.5,175.5 146.7,174.7 146.9,175.3 147.1,174.9 147.3,176.8 147.5,176.8 147.7,177.2 147.9,176.2 148.1,177.9 148.3,174.4 148.5,177.8 148.7,174.1 148.9,173.9 149.1,175.7 149.3,178.5 149.5,174.6 149.7,177.6 149.9,173.0 150.1,176.7 150.3,175.6 150.5,174.0 150.7,176.8 150.9,176.7 151.1,174.3 151.3,175.3 151.5,174.7 151.7,175.3 151.9,176.0 152.1,174.8 152.3,174.6 152.5,174.1 152.7,177.9 152.9,176.6 153.1,174.0 153.3,175.0 153.5,176.2 153.7,175.3 153.9,177.6 154.1,175.7 154.3,173.2 154.5,175.9 154.7,177.4 154.9,176.2 155.1,175.0 155.3,175.3 155.5,172.8 155.7,172.5 155.9,173.4 156.1,174.1 156.3,174.5 156.5,173.9 156.7,175.1 156.9,174.3 157.1,174.5 157.3,174.7 157.5,176.6 157.7,175.7 157.9,173.9 158.1,174.2 158.3,174.8 158.5,172.7 158.7,176.1 158.9,176.9 159.1,175.0 159.3,175.0 159.5,176.2 159.7,173.3 159.9,173.4 160.1,175.3 160.3,175.3 160.5,176.8 160.7,174.2 160.9,175.6 161.1,174.3 161.3,172.1 161.5,174.7 161.7,174.8 161.9,175.3 162.1,175.2 162.3,176.6 162.5,176.1 162.7,177.1 162.9,174.9 163.1,174.4 163.3,174.5 163.5,174.7 163.7,175.5 163.9,178.0 164.1,174.2 164.3,171.6 164.5,173.0 164.7,177.5 164.9,173.8 165.1,177.1 165.3,172.8 165.5,176.5 165.7,175.6 165.9,175.7 166.1,173.8 166.3,175.3 166.5,173.7 166.7,175.8 166.9,176.5 167.1,176.2 167.3,175.5 167.5,173.0 167.7,174.9 167.9,174.6 168.1,174.4 168.3,174.8 168.5,172.9 168.7,175.5 168.9,174.6 169.1,172.7 169.3,175.9 169.5,176.5 169.7,173.8 169.9,174.3 170.1,175.2 170.3,175.5 170.5,176.4 170.7,173.5 170.9,174.9 171.1,173.2 171.3,177.0 171.5,174.4 171.7,175.3 171.9,176.1 172.1,175.9 172.3,176.3 172.5,173.3 172.7,175.2 172.9,173.0 173.1,176.1 173.3,173.8 173.5,175.3 173.7,173.8 173.9,175.3 174.1,174.4 174.3,176.0 174.5,174.6 174.7,175.8 174.9,174.7 175.1,174.7 175.3,173.5 175.5,175.6 175.7,173.7 175.9,174.0 176.1,177.7 176.3,177.5 176.5,173.5 176.7,175.7 176.9,174.1 177.1,175.3 177.3,175.2 177.5,174.3 177.7,177.3 177.9,174.1 178.1,175.8 178.3,174.8 178.5,174.1 178.7,173.3 178.9,174.5 179.1,173.6 179.3,175.3 179.5,175.7 179.7,173.1 179.9,174.7 180.1,175.0 180.3,174.9 180.5,175.9 180.7,175.0 180.9,174.9 181.1,174.9 181.3,174.3 181.5,174.0 181.7,172.7 181.9,177.1 182.1,175.1 182.3,175.2 182.5,175.5 182.7,173.9 182.9,172.5 183.1,173.4 183.3,176.1 183.5,173.3 183.7,176.2 183.9,177.4 184.1,171.9 184.3,173.6 184.5,176.9 184.7,176.3 184.9,175.0 185.1,173.8 185.3,175.6 185.5,174.4 185.7,176.3 185.9,175.4 186.1,176.7 186.3,176.9 186.5,177.1 186.7,174.3 186.9,173.3 187.1,173.5 187.3,173.5 187.5,172.3 187.7,174.6 187.9,174.1 188.1,175.2 188.3,172.7 188.5,175.4 188.7,176.8 188.9,174.1 189.1,171.8 189.3,173.5 189.5,175.3 189.7,171.8 189.9,171.6 190.1,175.0 190.3,173.7 190.5,172.6 190.7,173.5 190.9,173.1 191.1,171.6 191.3,174.7 191.5,174.9 191.7,172.9 191.9,173.6 192.1,175.5 192.3,173.5 192.5,174.2 192.7,173.0 192.9,173.4 193.1,173.6 193.3,173.6 193.5,174.6 193.7,169.7 193.9,172.6 194.1,174.9 194.3,171.8 194.5,171.9 194.7,173.3 194.9,174.5 195.1,173.9 195.3,173.3 195.5,171.6 195.7,173.0 195.9,173.0 196.1,173.2 196.3,174.5 196.5,173.8 196.7,173.4 196.9,176.3 197.1,171.4 197.3,172.9 197.5,174.6 197.7,172.6 197.9,174.7 198.1,172.1 198.3,172.2 198.5,175.0 198.7,175.0 198.9,173.0 199.1,174.8 199.3,173.8 199.5,173.2 199.7,173.8 199.9,172.7 200.1,173.8 200.3,172.4 200.5,173.5 200.7,173.5 200.9,173.1 201.1,172.9 201.3,172.6 201.5,171.4 201.7,171.9 201.9,174.2 202.1,172.2 202.3,172.9 202.5,172.2 202.7,174.3 202.9,171.1 203.1,172.4 203.3,170.7 203.5,171.7 203.7,171.7 203.9,169.5 204.1,174.0 204.3,172.3 204.5,170.3 204.7,173.2 204.9,171.1 205.1,175.1 205.3,173.0 205.5,172.2 205.7,172.6 205.9,171.1 206.1,171.9 206.3,172.7 206.5,173.5 206.7,174.2 206.9,171.7 207.1,173.2 207.3,174.7 207.5,172.4 207.7,172.4 207.9,172.1 208.1,172.2 208.3,171.4 208.5,172.6 208.7,168.6 208.9,172.0 209.1,169.8 209.3,172.5 209.5,171.3 209.7,171.7 209.9,174.4 210.1,172.8 210.3,170.2 210.5,174.1 210.7,171.3 210.9,172.8 211.1,170.9 211.3,170.2 211.5,170.6 211.7,170.2 211.9,173.0 212.1,171.1 212.3,172.1 212.5,169.6 212.7,170.8 212.9,170.6 213.1,172.0 213.3,172.7 213.5,171.1 213.7,172.3 213.9,171.6 214.1,171.1 214.3,172.5 214.5,169.5 214.7,170.9 214.9,172.2 215.1,171.4 215.3,171.4 215.5,169.7 215.7,171.5 215.9,173.0 216.1,168.7 216.3,170.9 216.5,172.0 216.7,170.9 216.9,172.3 217.1,169.0 217.3,169.6 217.5,172.1 217.7,170.5 217.9,168.3 218.1,169.0 218.3,172.3 218.5,171.7 218.7,169.5 218.9,169.0 219.1,170.4 219.3,170.1 219.5,172.2 219.7,169.8 219.9,170.2 220.1,170.3 220.3,168.1 220.5,170.0 220.7,171.8 220.9,170.0 221.1,169.1 221.3,169.5 221.5,168.4 221.7,167.8 221.9,168.3 222.1,168.7 222.3,175.9 222.5,170.5 222.7,166.9 222.9,169.7 223.1,168.4 223.3,170.0 223.5,170.1 223.7,169.9 223.9,169.1 224.1,168.5 224.3,169.7 224.5,169.3 224.7,168.5 224.9,169.8 225.1,165.3 225.3,169.5 225.5,169.2 225.7,169.0 225.9,167.9 226.1,168.5 226.3,166.3 226.5,166.4 226.7,168.8 226.9,167.6 227.1,168.2 227.3,167.2 227.5,167.1 227.7,169.0 227.9,168.3 228.1,166.1 228.3,168.4 228.5,169.4 228.7,168.6 228.9,167.5 229.1,170.0 229.3,170.3 229.5,167.2 229.7,167.1 229.9,169.5 230.1,168.7 230.3,167.3 230.5,168.1 230.7,168.1 230.9,168.5 231.1,166.6 231.3,165.8 231.5,168.7 231.7,166.9 231.9,166.2 232.1,168.3 232.3,166.7 232.5,167.8 232.7,167.5 232.9,166.4 233.1,167.2 233.3,167.5 233.5,167.4 233.7,166.3 233.9,168.4 234.1,166.2 234.3,166.3 234.5,166.5 234.7,166.7 234.9,166.9 235.1,166.4 235.3,167.4 235.5,166.1 235.7,166.7 235.9,166.1 236.1,164.8 236.3,164.3 236.5,165.7 236.7,164.5 236.9,164.4 237.1,167.6 237.3,166.9 237.5,165.2 237.7,164.2 237.9,165.7 238.1,163.8 238.3,166.7 238.5,164.3 238.7,165.2 238.9,164.2 239.1,166.5 239.3,166.2 239.5,166.1 239.7,166.3 239.9,166.2 240.1,165.2 240.3,163.7 240.5,166.2 240.7,163.4 240.9,164.8 241.1,167.5 241.3,165.6 241.5,166.0 241.7,163.8 241.9,163.6 242.1,165.8 242.3,165.0 242.5,165.7 242.7,164.7 242.9,166.3 243.1,165.6 243.3,164.5 243.5,165.7 243.7,165.1 243.9,164.2 244.1,165.1 244.3,164.1 244.5,164.1 244.7,166.3 244.9,165.2 245.1,164.1 245.3,165.3 245.5,165.0 245.7,166.0 245.9,166.4 246.1,163.8 246.3,165.4 246.5,165.8 246.7,164.9 246.9,165.6 247.1,163.5 247.3,163.8 247.5,164.7 247.7,165.6 247.9,164.8 248.1,166.5 248.3,167.0 248.5,165.4 248.7,163.5 248.9,166.4 249.1,166.7 249.3,166.1 249.5,164.6 249.7,163.6 249.9,163.3 250.1,165.8 250.3,163.3 250.5,165.2 250.7,164.4 250.9,164.3 251.1,166.2 251.3,165.6 251.5,161.8 251.7,164.0 251.9,164.5 252.1,165.4 252.3,165.6 252.5,165.8 252.7,167.8 252.9,164.4 253.1,163.3 253.3,165.5 253.5,162.9 253.7,163.2 253.9,165.3 254.1,165.3 254.3,167.0 254.5,163.9 254.7,164.7 254.9,165.5 255.1,162.6 255.3,164.2 255.5,165.1 255.7,163.3 255.9,162.6 256.1,163.7 256.3,164.8 256.5,164.0 256.7,164.4 256.9,165.5 257.1,165.1 257.3,165.2 257.5,164.8 257.7,163.0 257.9,165.3 258.1,164.4 258.3,164.1 258.5,165.2 258.7,164.6 258.9,164.9 259.1,163.5 259.3,164.4 259.5,163.9 259.7,164.9 259.9,165.0 260.1,166.9 260.3,163.4 260.5,163.6 260.7,165.4 260.9,164.6 261.1,164.4 261.3,163.8 261.5,165.9 261.7,165.4 261.9,165.8 262.1,164.9 262.3,164.9 262.5,164.7 262.7,163.1 262.9,165.3 263.1,165.1 263.3,166.8 263.5,167.2 263.7,165.7 263.9,167.2 264.1,165.0 264.3,165.1 264.5,164.7 264.7,164.2 264.9,165.0 265.1,164.3 265.3,164.8 265.5,164.6 265.7,166.6 265.9,163.3 266.1,165.8 266.3,166.6 266.5,162.2 266.7,165.2 266.9,165.1 267.1,162.5 267.3,164.2 267.5,164.4 267.7,164.9 267.9,167.1 268.1,163.0 268.3,165.6 268.5,167.1 268.7,162.1 268.9,164.7 269.1,165.7 269.3,164.4 269.5,162.8 269.7,164.8 269.9,163.6 270.1,164.2 270.3,165.7 270.5,161.9 270.7,165.9 270.9,164.1 271.1,164.1 271.3,165.0 271.5,165.3 271.7,163.3 271.9,164.4 272.1,163.8 272.3,163.6 272.5,163.7 272.7,165.7 272.9,164.0 273.1,165.7 273.3,163.4 273.5,166.1 273.7,163.5 273.9,163.4 274.1,164.1 274.3,167.8 274.5,163.2 274.7,165.6 274.9,167.7 275.1,162.3 275.3,164.5 275.5,163.8 275.7,165.8 275.9,165.8 276.1,164.7 276.3,165.8 276.5,164.9 276.7,164.9 276.9,165.9 277.1,164.8 277.3,164.6 277.5,163.8 277.7,165.9 277.9,163.4 278.1,163.1 278.3,164.1 278.5,163.9 278.7,164.3 278.9,165.3 279.1,162.7 279.3,164.7 279.5,166.0 279.7,164.0 279.9,163.9 280.1,163.4 280.3,165.0 280.5,164.3 280.7,163.7 280.9,164.9 281.1,164.3 281.3,166.1 281.5,163.8 281.7,163.4 281.9,164.4 282.1,164.3 282.3,165.1 282.5,164.0 282.7,165.4 282.9,163.5 283.1,164.0 283.3,164.0 283.5,162.7 283.7,164.7 283.9,164.5 284.1,163.9 284.3,165.7 284.5,164.6 284.7,164.0 284.9,164.5 285.1,164.8 285.3,164.4 285.5,166.1 285.7,164.9 285.9,165.3 286.1,163.9 286.3,162.9 286.5,166.7 286.7,165.2 286.9,163.3 287.1,165.0 287.3,162.0 287.5,163.2 287.7,164.5 287.9,165.5 288.1,163.8 288.3,164.2 288.5,164.4 288.7,165.9 288.9,164.2 289.1,164.7 289.3,162.9 289.5,164.4 289.7,164.0 289.9,167.0 290.1,163.9 290.3,170.4 290.5,163.6 290.7,165.2 290.9,165.2 291.1,163.0 291.3,165.3 291.5,166.0 291.7,164.8 291.9,164.1 292.1,164.4 292.3,163.8 292.5,164.4 292.7,162.9 292.9,164.5 293.1,165.0 293.3,165.0 293.5,163.2 293.7,164.3 293.9,164.2 294.1,166.3 294.3,163.5 294.5,165.2 294.7,163.5 294.9,163.5 295.1,163.1 295.3,164.7 295.5,162.7 295.7,166.0 295.9,163.0 296.1,165.3 296.3,163.9 296.5,161.7 296.7,162.8 296.9,165.0 297.1,161.3 297.3,163.6 297.5,165.4 297.7,164.4 297.9,163.7 298.1,163.8 298.3,165.1 298.5,166.6 298.7,165.2 298.9,162.4 299.1,163.9 299.3,162.5 299.5,164.3 299.7,166.0 299.9,164.9 300.1,164.3 300.3,163.9 300.5,161.6 300.7,163.0 300.9,164.1 301.1,165.6 301.3,163.3 301.5,163.8 301.7,164.6 301.9,161.0 302.1,163.7 302.3,163.2 302.5,165.8 302.7,163.7 302.9,162.7 303.1,164.1 303.3,165.3 303.5,163.2 303.7,165.4 303.9,166.1 304.1,162.5 304.3,164.6 304.5,164.6 304.7,164.2 304.9,165.6 305.1,165.2 305.3,162.3 305.5,164.0 305.7,163.3 305.9,163.3 306.1,164.4 306.3,162.9 306.5,163.6 306.7,164.5 306.9,165.8 307.1,163.6 307.3,165.3 307.5,165.7 307.7,163.4 307.9,164.1 308.1,163.5 308.3,164.4 308.5,165.3 308.7,165.9 308.9,164.8 309.1,162.9 309.3,163.9 309.5,162.4 309.7,166.8 309.9,164.7 310.1,164.5 310.3,164.7 310.5,165.1 310.7,163.7 310.9,165.4 311.1,163.6 311.3,165.1 311.5,164.3 311.7,164.5 311.9,164.2 312.1,164.8 312.3,163.3 312.5,164.2 312.7,163.1 312.9,163.1 313.1,163.3 313.3,164.8 313.5,162.9 313.7,164.0 313.9,164.3 314.1,164.5 314.3,164.7 314.5,162.8 314.7,165.7 314.9,162.7 315.1,164.2 315.3,163.0 315.5,166.7 315.7,161.9 315.9,165.0 316.1,164.6 316.3,163.3 316.5,164.2 316.7,164.7 316.9,164.2 317.1,164.9 317.3,165.1 317.5,161.8 317.7,163.3 317.9,163.0 318.1,163.5 318.3,165.6 318.5,163.3 318.7,163.3 318.9,164.0 319.1,165.0 319.3,164.3 319.5,165.9 319.7,165.1 319.9,163.8 320.1,164.1 320.3,164.9 320.5,162.6 320.7,166.2 320.9,164.7 321.1,164.9 321.3,164.4 321.5,163.9 321.7,165.0 321.9,163.2 322.1,163.1 322.3,163.2 322.5,163.8 322.7,164.1 322.9,163.6 323.1,164.3 323.3,165.1 323.5,164.9 323.7,164.5 323.9,165.2 324.1,162.8 324.3,163.5 324.5,163.5 324.7,165.4 324.9,164.7 325.1,164.5 325.3,164.3 325.5,163.9 325.7,164.8 325.9,164.8 326.1,165.4 326.3,163.5 326.5,163.9 326.7,166.2 326.9,165.3 327.1,162.2 327.3,164.7 327.5,164.4 327.7,162.5 327.9,164.6 328.1,164.8 328.3,165.0 328.5,163.5 328.7,165.1 328.9,163.0 329.1,164.9 329.3,164.8 329.5,164.7 329.7,165.7 329.9,163.2 330.1,164.0 330.3,163.1 330.5,164.2 330.7,163.7 330.9,163.7 331.1,165.3 331.3,163.3 331.5,164.8 331.7,164.0 331.9,163.0 332.1,165.5 332.3,164.0 332.5,165.1 332.7,163.4 332.9,161.8 333.1,165.3 333.3,162.7 333.5,164.1 333.7,162.0 333.9,166.5 334.1,163.6 334.3,166.3 334.5,164.2 334.7,164.9 334.9,165.1 335.1,164.3 335.3,163.8 335.5,163.5 335.7,165.6 335.9,166.2 336.1,161.7 336.3,164.0 336.5,163.5 336.7,158.4 336.9,163.9 337.1,163.4 337.3,163.2 337.5,162.0 337.7,165.2 337.9,163.0 338.1,164.5 338.3,163.4 338.5,163.9 338.7,162.7"/><polyline stroke="#f7821c" points="41.5,180.5 41.7,183.0 41.9,183.8 42.1,181.9 42.3,180.6 42.5,178.9 42.7,181.7 42.9,181.6 43.1,182.7 43.3,180.5 43.5,178.1 43.7,180.1 43.9,181.7 44.1,179.4 44.3,182.1 44.5,177.6 44.7,178.9 44.9,179.0 45.1,177.8 45.3,177.4 45.5,176.5 45.7,178.9 45.9,177.6 46.1,178.1 46.3,180.3 46.5,177.5 46.7,176.9 46.9,175.4 47.1,176.5 47.3,179.3 47.5,180.9 47.7,178.3 47.9,178.1 48.1,179.5 48.3,179.5 48.5,179.0 48.7,179.0 48.9,178.0 49.1,179.5 49.3,178.3 49.5,173.4 49.7,178.3 49.9,179.5 50.1,181.0 50.3,177.6 50.5,173.8 50.7,177.8 50.9,176.0 51.1,179.9 51.3,178.1 51.5,177.2 51.7,177.5 51.9,178.7 52.1,175.4 52.3,175.1 52.5,177.8 52.7,178.3 52.9,176.8 53.1,176.7 53.3,181.5 53.5,177.1 53.7,176.3 53.9,176.3 54.1,175.0 54.3,176.2 54.5,178.0 54.7,175.1 54.9,176.4 55.1,177.4 55.3,175.5 55.5,177.8 55.7,175.1 55.9,177.1 56.1,175.1 56.3,179.7 56.5,175.5 56.7,174.3 56.9,176.5 57.1,176.3 57.3,178.3 57.5,174.9 57.7,176.5 57.9,176.6 58.1,175.5 58.3,175.9 58.5,179.4 58.7,176.1 58.9,179.5 59.1,178.6 59.3,176.4 59.5,176.0 59.7,177.4 59.9,177.1 60.1,178.5 60.3,176.1 60.5,178.0 60.7,177.6 60.9,180.7 61.1,177.9 61.3,178.5 61.5,176.8 61.7,178.7 61.9,177.1 62.1,178.8 62.3,175.5 62.5,174.4 62.7,176.0 62.9,175.2 63.1,175.0 63.3,176.6 63.5,176.9 63.7,178.7 63.9,177.0 64.1,175.2 64.3,173.8 64.5,178.7 64.7,178.1 64.9,178.1 65.1,176.7 65.3,174.6 65.5,174.9 65.7,177.2 65.9,176.6 66.1,175.3 66.3,178.3 66.5,175.8 66.7,178.4 66.9,173.9 67.1,175.8 67.3,177.0 67.5,176.9 67.7,179.5 67.9,177.1 68.1,176.1 68.3,175.6 68.5,177.0 68.7,177.4 68.9,174.1 69.1,174.0 69.3,175.4 69.5,176.5 69.7,173.9 69.9,174.6 70.1,174.5 70.3,175.4 70.5,174.3 70.7,177.3 70.9,173.6 71.1,174.0 71.3,176.4 71.5,176.0 71.7,174.8 71.9,176.0 72.1,175.8 72.3,177.4 72.5,177.1 72.7,178.2 72.9,174.7 73.1,175.9 73.3,179.2 73.5,175.4 73.7,173.5 73.9,175.3 74.1,176.0 74.3,178.1 74.5,174.9 74.7,174.0 74.9,178.9 75.1,176.3 75.3,175.2 75.5,176.4 75.7,172.5 75.9,178.4 76.1,171.0 76.3,173.4 76.5,173.4 76.7,173.1 76.9,176.5 77.1,177.6 77.3,174.0 77.5,177.1 77.7,176.5 77.9,172.5 78.1,174.0 78.3,174.1 78.5,176.2 78.7,172.7 78.9,174.6 79.1,175.0 79.3,176.0 79.5,175.9 79.7,174.0 79.9,172.9 80.1,175.7 80.3,174.1 80.5,173.7 80.7,177.0 80.9,174.2 81.1,173.6 81.3,177.5 81.5,172.6 81.7,172.3 81.9,176.0 82.1,173.6 82.3,172.5 82.5,174.4 82.7,174.2 82.9,176.1 83.1,172.7 83.3,171.9 83.5,173.8 83.7,174.2 83.9,170.3 84.1,176.7 84.3,174.7 84.5,172.2 84.7,173.2 84.9,173.9 85.1,173.2 85.3,174.5 85.5,172.1 85.7,174.9 85.9,174.2 86.1,174.4 86.3,175.3 86.5,172.5 86.7,175.8 86.9,171.7 87.1,173.1 87.3,175.4 87.5,172.4 87.7,172.4 87.9,172.0 88.1,171.6 88.3,171.9 88.5,174.4 88.7,170.8 88.9,172.6 89.1,170.8 89.3,172.2 89.5,173.1 89.7,172.6 89.9,169.0 90.1,169.1 90.3,173.6 90.5,169.9 90.7,171.1 90.9,169.5 91.1,172.4 91.3,173.2 91.5,173.4 91.7,172.3 91.9,174.5 92.1,171.9 92.3,175.4 92.5,168.6 92.7,171.5 92.9,171.0 93.1,172.2 93.3,168.9 93.5,172.2 93.7,170.3 93.9,170.9 94.1,170.9 94.3,170.7 94.5,172.7 94.7,166.9 94.9,170.9 95.1,172.9 95.3,170.7 95.5,170.1 95.7,175.4 95.9,172.0 96.1,172.5 96.3,172.5 96.5,173.3 96.7,174.6 96.9,171.5 97.1,171.3 97.3,172.0 97.5,170.4 97.7,169.7 97.9,172.1 98.1,171.6 98.3,173.2 98.5,170.4 98.7,171.7 98.9,168.5 99.1,170.1 99.3,169.0 99.5,170.1 99.7,171.4 99.9,172.1 100.1,173.2 100.3,170.1 100.5,169.1 100.7,172.3 100.9,175.2 101.1,170.4 101.3,170.2 101.5,169.9 101.7,173.0 101.9,170.7 102.1,168.9 102.3,174.4 102.5,173.0 102.7,169.9 102.9,170.5 103.1,171.7 103.3,170.3 103.5,170.9 103.7,174.3 103.9,171.5 104.1,172.0 104.3,169.9 104.5,169.2 104.7,171.6 104.9,171.6 105.1,171.0 105.3,171.3 105.5,170.6 105.7,169.8 105.9,167.1 106.1,172.2 106.3,171.6 106.5,171.2 106.7,171.0 106.9,170.5 107.1,171.1 107.3,171.2 107.5,170.4 107.7,173.4 107.9,171.7 108.1,172.6 108.3,165.9 108.5,172.5 108.7,176.0 108.9,167.3 109.1,169.3 109.3,167.1 109.5,170.4 109.7,170.5 109.9,171.0 110.1,174.5 110.3,172.0 110.5,169.6 110.7,170.2 110.9,169.7 111.1,167.9 111.3,171.3 111.5,169.9 111.7,171.8 111.9,171.5 112.1,169.3 112.3,170.1 112.5,169.3 112.7,172.0 112.9,172.1 113.1,168.8 113.3,170.7 113.5,171.8 113.7,171.5 113.9,173.0 114.1,173.3 114.3,171.4 114.5,167.6 114.7,172.9 114.9,170.0 115.1,170.8 115.3,168.1 115.5,172.6 115.7,169.7 115.9,170.2 116.1,168.6 116.3,171.1 116.5,172.0 116.7,171.3 116.9,171.7 117.1,169.6 117.3,170.2 117.5,168.9 117.7,166.0 117.9,169.5 118.1,170.4 118.3,172.7 118.5,169.8 118.7,173.6 118.9,167.3 119.1,168.8 119.3,168.4 119.5,168.3 119.7,169.5 119.9,172.8 120.1,168.9 120.3,170.2 120.5,172.0 120.7,170.9 120.9,170.4 121.1,171.1 121.3,172.0 121.5,170.4 121.7,172.3 121.9,171.1 122.1,172.4 122.3,167.3 122.5,170.0 122.7,173.9 122.9,170.5 123.1,170.3 123.3,168.7 123.5,167.6 123.7,170.7 123.9,169.9 124.1,169.8 124.3,171.4 124.5,168.3 124.7,171.2 124.9,173.4 125.1,171.2 125.3,171.1 125.5,167.0 125.7,171.0 125.9,173.9 126.1,171.5 126.3,169.0 126.5,168.8 126.7,170.3 126.9,171.2 127.1,168.0 127.3,170.0 127.5,170.1 127.7,167.5 127.9,168.2 128.1,169.1 128.3,171.1 128.5,171.1 128.7,169.6 128.9,169.4 129.1,169.0 129.3,170.0 129.5,171.2 129.7,169.9 129.9,170.2 130.1,169.2 130.3,167.3 130.5,169.6 130.7,174.3 130.9,170.2 131.1,168.3 131.3,168.7 131.5,169.9 131.7,168.8 131.9,171.3 132.1,167.9 132.3,168.3 132.5,171.5 132.7,171.4 132.9,171.0 133.1,166.7 133.3,172.1 133.5,170.1 133.7,167.2 133.9,172.0 134.1,172.3 134.3,168.8 134.5,164.8 134.7,170.2 134.9,172.9 135.1,169.0 135.3,169.4 135.5,165.9 135.7,167.7 135.9,168.7 136.1,167.5 136.3,172.0 136.5,168.1 136.7,171.2 136.9,167.9 137.1,168.9 137.3,173.2 137.5,172.0 137.7,172.7 137.9,169.7 138.1,168.6 138.3,167.2 138.5,168.4 138.7,171.2 138.9,171.1 139.1,169.7 139.3,167.4 139.5,168.7 139.7,172.8 139.9,169.4 140.1,168.0 140.3,168.3 140.5,170.1 140.7,168.1 140.9,168.3 141.1,168.6 141.3,168.2 141.5,171.5 141.7,171.6 141.9,172.2 142.1,173.7 142.3,171.7 142.5,171.0 142.7,169.4 142.9,168.3 143.1,170.1 143.3,171.9 143.5,171.0 143.7,169.4 143.9,168.7 144.1,170.7 144.3,169.9 144.5,170.5 144.7,168.7 144.9,169.3 145.1,166.1 145.3,168.7 145.5,167.4 145.7,170.8 145.9,170.0 146.1,171.9 146.3,171.6 146.5,167.6 146.7,166.9 146.9,168.3 147.1,169.9 147.3,165.8 147.5,173.3 147.7,170.4 147.9,171.5 148.1,170.8 148.3,169.2 148.5,168.9 148.7,171.0 148.9,166.1 149.1,169.7 149.3,169.3 149.5,167.6 149.7,170.7 149.9,168.1 150.1,169.5 150.3,168.2 150.5,171.7 150.7,165.7 150.9,170.6 151.1,165.9 151.3,172.9 151.5,167.3 151.7,167.3 151.9,173.4 152.1,169.3 152.3,167.6 152.5,172.8 152.7,169.3 152.9,169.5 153.1,168.3 153.3,169.4 153.5,168.2 153.7,172.3 153.9,169.9 154.1,169.5 154.3,167.3 154.5,168.3 154.7,168.2 154.9,169.5 155.1,167.4 155.3,167.3 155.5,168.5 155.7,169.2 155.9,166.2 156.1,169.6 156.3,169.0 156.5,167.4 156.7,169.4 156.9,169.4 157.1,167.4 157.3,172.1 157.5,168.8 157.7,172.0 157.9,169.3 158.1,170.3 158.3,168.7 158.5,170.6 158.7,170.0 158.9,169.0 159.1,169.7 159.3,168.9 159.5,171.0 159.7,169.3 159.9,173.0 160.1,171.0 160.3,166.2 160.5,170.5 160.7,169.5 160.9,168.4 161.1,168.8 161.3,168.9 161.5,170.9 161.7,170.0 161.9,169.8 162.1,168.1 162.3,169.8 162.5,169.0 162.7,171.7 162.9,169.0 163.1,168.1 163.3,167.0 163.5,170.5 163.7,168.7 163.9,168.7 164.1,166.4 164.3,171.0 164.5,170.8 164.7,168.5 164.9,171.2 165.1,169.9 165.3,174.2 165.5,173.0 165.7,167.7 165.9,170.4 166.1,168.2 166.3,171.0 166.5,171.1 166.7,168.0 166.9,169.8 167.1,166.6 167.3,169.7 167.5,172.1 167.7,169.3 167.9,170.0 168.1,169.8 168.3,167.7 168.5,167.7 168.7,166.0 168.9,169.0 169.1,169.9 169.3,167.8 169.5,171.6 169.7,168.5 169.9,170.0 170.1,167.9 170.3,166.7 170.5,170.7 170.7,170.3 170.9,168.9 171.1,169.9 171.3,169.9 171.5,170.9 171.7,171.1 171.9,170.9 172.1,166.8 172.3,166.6 172.5,169.0 172.7,170.2 172.9,169.2 173.1,168.3 173.3,169.1 173.5,168.6 173.7,170.5 173.9,167.2 174.1,169.0 174.3,169.4 174.5,172.5 174.7,167.4 174.9,169.2 175.1,167.4 175.3,166.9 175.5,169.0 175.7,172.0 175.9,166.8 176.1,171.1 176.3,169.6 176.5,167.8 176.7,167.2 176.9,169.5 177.1,170.7 177.3,172.8 177.5,169.7 177.7,169.2 177.9,169.4 178.1,167.2 178.3,172.1 178.5,168.9 178.7,166.2 178.9,170.1 179.1,167.1 179.3,171.7 179.5,168.4 179.7,166.9 179.9,167.7 180.1,171.7 180.3,171.5 180.5,170.1 180.7,170.2 180.9,168.2 181.1,170.1 181.3,169.9 181.5,168.9 181.7,167.9 181.9,166.1 182.1,168.5 182.3,172.3 182.5,169.6 182.7,169.5 182.9,171.4 183.1,166.2 183.3,171.5 183.5,169.3 183.7,169.0 183.9,171.0 184.1,167.9 184.3,168.0 184.5,168.6 184.7,168.7 184.9,172.0 185.1,168.6 185.3,170.6 185.5,171.5 185.7,168.7 185.9,171.6 186.1,167.1 186.3,169.5 186.5,169.1 186.7,168.0 186.9,166.1 187.1,169.3 187.3,168.8 187.5,167.4 187.7,169.7 187.9,169.6 188.1,171.4 188.3,173.7 188.5,166.2 188.7,169.6 188.9,171.5 189.1,169.4 189.3,171.0 189.5,169.3 189.7,167.9 189.9,168.8 190.1,169.4 190.3,170.0 190.5,165.7 190.7,170.5 190.9,168.0 191.1,168.5 191.3,170.2 191.5,168.2 191.7,165.1 191.9,169.6 192.1,165.8 192.3,170.3 192.5,168.0 192.7,168.7 192.9,170.6 193.1,166.9 193.3,168.0 193.5,168.5 193.7,169.1 193.9,168.2 194.1,168.2 194.3,169.0 194.5,168.5 194.7,168.3 194.9,167.9 195.1,169.2 195.3,168.3 195.5,166.9 195.7,170.7 195.9,168.0 196.1,169.7 196.3,170.9 196.5,165.9 196.7,169.4 196.9,167.6 197.1,170.2 197.3,168.8 197.5,172.7 197.7,166.8 197.9,166.4 198.1,170.6 198.3,166.2 198.5,171.2 198.7,171.3 198.9,167.6 199.1,166.9 199.3,170.2 199.5,165.6 199.7,167.8 199.9,169.9 200.1,169.5 200.3,167.9 200.5,168.4 200.7,169.0 200.9,169.8 201.1,169.4 201.3,169.9 201.5,165.5 201.7,167.9 201.9,166.8 202.1,166.1 202.3,166.2 202.5,166.0 202.7,167.5 202.9,169.0 203.1,169.5 203.3,166.3 203.5,169.3 203.7,166.8 203.9,168.7 204.1,170.9 204.3,169.1 204.5,167.5 204.7,169.8 204.9,170.2 205.1,166.3 205.3,170.6 205.5,168.5 205.7,169.8 205.9,170.0 206.1,169.8 206.3,167.4 206.5,169.0 206.7,169.1 206.9,169.4 207.1,170.2 207.3,167.9 207.5,168.6 207.7,169.7 207.9,166.5 208.1,169.7 208.3,165.6 208.5,170.8 208.7,168.8 208.9,167.0 209.1,166.5 209.3,171.4 209.5,170.8 209.7,170.4 209.9,167.7 210.1,169.1 210.3,164.7 210.5,168.2 210.7,171.3 210.9,170.2 211.1,165.0 211.3,167.6 211.5,170.2 211.7,167.6 211.9,169.9 212.1,167.1 212.3,166.0 212.5,168.0 212.7,167.8 212.9,167.0 213.1,171.9 213.3,170.1 213.5,169.6 213.7,166.1 213.9,170.9 214.1,166.4 214.3,169.8 214.5,167.8 214.7,167.2 214.9,164.8 215.1,165.9 215.3,166.5 215.5,168.8 215.7,168.6 215.9,166.7 216.1,164.7 216.3,172.5 216.5,165.8 216.7,167.6 216.9,170.1 217.1,170.2 217.3,166.4 217.5,169.6 217.7,168.5 217.9,167.2 218.1,168.8 218.3,171.4 218.5,164.4 218.7,164.2 218.9,163.4 219.1,170.5 219.3,167.9 219.5,168.4 219.7,168.4 219.9,164.4 220.1,170.6 220.3,170.1 220.5,168.8 220.7,170.1 220.9,167.6 221.1,167.7 221.3,166.7 221.5,166.8 221.7,169.4 221.9,166.9 222.1,168.0 222.3,167.7 222.5,169.1 222.7,170.9 222.9,168.0 223.1,168.5 223.3,166.4 223.5,167.9 223.7,168.0 223.9,170.8 224.1,166.4 224.3,166.9 224.5,166.7 224.7,169.5 224.9,167.1 225.1,168.1 225.3,168.4 225.5,168.1 225.7,170.7 225.9,169.9 226.1,171.4 226.3,168.2 226.5,166.5 226.7,164.6 226.9,168.3 227.1,164.1 227.3,167.7 227.5,167.1 227.7,167.5 227.9,168.5 228.1,169.2 228.3,169.2 228.5,168.2 228.7,169.6 228.9,166.1 229.1,165.3 229.3,166.0 229.5,169.2 229.7,168.5 229.9,168.1 230.1,167.2 230.3,166.4 230.5,168.2 230.7,168.2 230.9,164.1 231.1,168.3 231.3,164.9 231.5,166.0 231.7,170.7 231.9,166.9 232.1,168.1 232.3,167.0 232.5,166.4 232.7,165.0 232.9,169.7 233.1,168.3 233.3,169.0 233.5,163.7 233.7,167.6 233.9,168.5 234.1,166.3 234.3,170.1 234.5,167.6 234.7,169.3 234.9,168.4 235.1,168.7 235.3,168.7 235.5,168.2 235.7,165.8 235.9,167.1 236.1,165.2 236.3,166.8 236.5,168.9 236.7,170.1 236.9,164.1 237.1,164.6 237.3,164.5 237.5,169.2 237.7,168.7 237.9,166.9 238.1,170.3 238.3,167.1 238.5,164.4 238.7,167.9 238.9,168.3 239.1,169.8 239.3,164.2 239.5,166.2 239.7,168.9 239.9,163.3 240.1,166.0 240.3,168.8 240.5,168.6 240.7,166.3 240.9,167.5 241.1,166.3 241.3,165.6 241.5,169.1 241.7,169.7 241.9,165.1 242.1,164.4 242.3,167.5 242.5,170.0 242.7,163.3 242.9,169.0 243.1,163.0 243.3,171.2 243.5,166.4 243.7,164.8 243.9,168.5 244.1,168.1 244.3,168.8 244.5,171.6 244.7,169.2 244.9,168.9 245.1,169.3 245.3,165.5 245.5,166.7 245.7,166.9 245.9,167.7 246.1,168.0 246.3,167.7 246.5,166.0 246.7,168.3 246.9,169.2 247.1,168.5 247.3,164.0 247.5,167.6 247.7,172.1 247.9,167.0 248.1,167.6 248.3,166.2 248.5,168.2 248.7,167.2 248.9,167.7 249.1,166.6 249.3,168.1 249.5,171.1 249.7,167.7 249.9,170.5 250.1,170.0 250.3,164.6 250.5,168.8 250.7,167.6 250.9,168.9 251.1,166.7 251.3,166.8 251.5,165.9 251.7,168.4 251.9,166.5 252.1,168.3 252.3,169.5 252.5,170.1 252.7,166.2 252.9,171.5 253.1,167.2 253.3,169.1 253.5,166.7 253.7,167.3 253.9,169.0 254.1,164.7 254.3,166.0 254.5,165.5 254.7,166.2 254.9,171.2 255.1,166.0 255.3,169.9 255.5,166.8 255.7,166.9 255.9,167.7 256.1,167.0 256.3,168.0 256.5,168.4 256.7,169.6 256.9,168.8 257.1,162.0 257.3,168.2 257.5,172.2 257.7,165.8 257.9,165.8 258.1,171.6 258.3,168.5 258.5,166.0 258.7,170.0 258.9,171.0 259.1,167.1 259.3,166.3 259.5,167.2 259.7,169.7 259.9,171.0 260.1,166.7 260.3,169.1 260.5,167.0 260.7,166.3 260.9,162.8 261.1,167.6 261.3,172.8 261.5,166.1 261.7,172.2 261.9,168.3 262.1,171.6 262.3,166.8 262.5,164.7 262.7,168.0 262.9,169.0 263.1,170.0 263.3,169.7 263.5,168.4 263.7,167.0 263.9,169.0 264.1,170.6 264.3,170.0 264.5,173.4 264.7,166.7 264.9,169.6 265.1,167.1 265.3,164.7 265.5,173.1 265.7,168.0 265.9,169.4 266.1,169.4 266.3,167.4 266.5,168.7 266.7,170.9 266.9,169.5 267.1,166.8 267.3,169.6 267.5,171.5 267.7,168.0 267.9,172.0 268.1,169.4 268.3,168.5 268.5,166.2 268.7,157.0 268.9,167.3 269.1,168.3 269.3,169.4 269.5,172.5 269.7,166.5 269.9,166.5 270.1,170.8 270.3,168.5 270.5,167.5 270.7,169.4 270.9,167.6 271.1,171.1 271.3,164.5 271.5,168.2 271.7,169.5 271.9,169.2 272.1,170.1 272.3,168.5 272.5,165.3 272.7,168.8 272.9,169.5 273.1,170.5 273.3,168.3 273.5,167.2 273.7,170.1 273.9,171.0 274.1,172.0 274.3,171.4 274.5,171.1 274.7,169.0 274.9,168.7 275.1,170.5 275.3,166.4 275.5,166.7 275.7,174.8 275.9,170.0 276.1,172.8 276.3,170.9 276.5,168.8 276.7,170.0 276.9,168.6 277.1,168.4 277.3,166.9 277.5,171.0 277.7,166.7 277.9,170.7 278.1,167.7 278.3,171.7 278.5,168.8 278.7,167.4 278.9,169.6 279.1,169.4 279.3,171.1 279.5,168.9 279.7,171.7 279.9,170.8 280.1,170.6 280.3,170.5 280.5,168.8 280.7,166.6 280.9,166.6 281.1,171.2 281.3,169.9 281.5,165.2 281.7,173.4 281.9,169.0 282.1,173.3 282.3,150.0 282.5,170.6 282.7,169.5 282.9,171.3 283.1,170.0 283.3,173.9 283.5,168.2 283.7,171.1 283.9,169.5 284.1,172.1 284.3,170.3 284.5,171.3 284.7,170.6 284.9,166.7 285.1,169.9 285.3,170.0 285.5,173.1 285.7,170.9 285.9,166.6 286.1,170.1 286.3,169.0 286.5,170.3 286.7,168.1 286.9,168.1 287.1,156.0 287.3,165.2 287.5,165.2 287.7,166.7 287.9,173.5 288.1,171.6 288.3,171.1 288.5,171.3 288.7,166.9 288.9,167.5 289.1,169.5 289.3,170.6 289.5,166.2 289.7,173.2 289.9,169.9 290.1,166.8 290.3,168.4 290.5,171.0 290.7,171.3 290.9,168.4 291.1,173.0 291.3,169.7 291.5,171.0 291.7,170.4 291.9,169.6 292.1,169.7 292.3,170.5 292.5,167.9 292.7,170.9 292.9,170.2 293.1,169.2 293.3,171.6 293.5,168.7 293.7,168.2 293.9,168.9 294.1,168.6 294.3,164.4 294.5,172.4 294.7,173.5 294.9,171.6 295.1,170.8 295.3,173.4 295.5,174.2 295.7,172.5 295.9,170.3 296.1,170.1 296.3,168.8 296.5,167.6 296.7,167.4 296.9,167.4 297.1,171.2 297.3,173.0 297.5,167.4 297.7,170.4 297.9,171.4 298.1,166.0 298.3,166.5 298.5,171.9 298.7,168.4 298.9,167.8 299.1,174.7 299.3,175.8 299.5,166.4 299.7,164.2 299.9,169.0 300.1,165.3 300.3,173.5 300.5,167.9 300.7,175.5 300.9,167.9 301.1,170.4 301.3,167.7 301.5,172.0 301.7,171.7 301.9,171.9 302.1,168.8 302.3,170.5 302.5,164.7 302.7,167.6 302.9,169.0 303.1,172.9 303.3,167.2 303.5,170.7 303.7,173.7 303.9,168.8 304.1,158.0 304.3,169.6 304.5,166.7 304.7,170.2 304.9,170.2 305.1,169.1 305.3,172.5 305.5,168.8 305.7,171.4 305.9,174.7 306.1,168.1 306.3,170.1 306.5,167.8 306.7,170.6 306.9,167.1 307.1,173.4 307.3,172.4 307.5,166.9 307.7,167.4 307.9,170.9 308.1,170.5 308.3,171.3 308.5,170.5 308.7,171.8 308.9,171.0 309.1,169.4 309.3,171.6 309.5,172.8 309.7,169.6 309.9,172.0 310.1,171.1 310.3,173.7 310.5,171.3 310.7,170.7 310.9,170.2 311.1,170.3 311.3,171.2 311.5,169.2 311.7,171.2 311.9,171.3 312.1,168.1 312.3,172.0 312.5,175.1 312.7,169.4 312.9,168.9 313.1,170.3 313.3,171.6 313.5,171.7 313.7,165.6 313.9,168.7 314.1,168.0 314.3,170.7 314.5,169.3 314.7,169.8 314.9,170.7 315.1,170.8 315.3,171.8 315.5,171.1 315.7,170.5 315.9,168.5 316.1,171.7 316.3,170.7 316.5,172.3 316.7,161.7 316.9,174.0 317.1,170.3 317.3,171.0 317.5,174.6 317.7,168.5 317.9,171.2 318.1,172.4 318.3,170.0 318.5,166.4 318.7,171.9 318.9,171.4 319.1,168.2 319.3,164.5 319.5,170.1 319.7,167.7 319.9,169.7 320.1,173.4 320.3,169.6 320.5,172.7 320.7,169.6 320.9,171.2 321.1,171.7 321.3,168.6 321.5,169.2 321.7,169.7 321.9,168.9 322.1,169.3 322.3,168.4 322.5,169.4 322.7,171.1 322.9,164.9 323.1,166.6 323.3,172.0 323.5,171.3 323.7,168.9 323.9,167.6 324.1,169.7 324.3,166.6 324.5,166.2 324.7,170.1 324.9,171.2 325.1,168.6 325.3,169.3 325.5,170.7 325.7,167.7 325.9,170.4 326.1,166.0 326.3,171.4 326.5,166.3 326.7,169.9 326.9,167.7 327.1,167.1 327.3,170.0 327.5,170.7 327.7,167.1 327.9,171.5 328.1,173.9 328.3,170.1 328.5,166.4 328.7,168.8 328.9,175.3 329.1,171.8 329.3,170.0 329.5,169.3 329.7,167.3 329.9,170.7 330.1,168.7 330.3,166.2 330.5,166.0 330.7,169.8 330.9,171.5 331.1,173.0 331.3,169.4 331.5,170.2 331.7,170.9 331.9,171.3 332.1,168.4 332.3,171.8 332.5,171.7 332.7,171.5 332.9,167.4 333.1,171.3 333.3,170.9 333.5,167.5 333.7,166.9 333.9,173.0 334.1,170.0 334.3,170.8 334.5,168.2 334.7,167.4 334.9,167.2 335.1,169.1 335.3,171.4 335.5,175.6 335.7,167.7 335.9,170.5 336.1,170.6 336.3,165.3 336.5,169.7 336.7,164.5 336.9,169.5 337.1,170.8 337.3,165.8 337.5,167.5 337.7,169.0 337.9,170.9 338.1,170.6 338.3,170.8 338.5,172.5 338.7,171.0"/><path stroke="#1a901a" stroke-opacity="0.55" stroke-width="0.8" d="M42.0,183.5V177.5M53.9,178.0V189.4M56.0,178.0V187.5M57.4,178.0V170.1M59.5,178.0V170.8M60.9,178.0V190.6M64.4,178.0V186.7M66.5,178.0V166.8M70.7,178.1V187.2M73.5,178.2V188.2M74.9,178.2V192.0M80.5,178.3V171.9M84.7,178.4V171.7M88.9,178.5V169.6M93.1,178.5V191.4M93.8,178.5V189.9M97.3,178.6V186.8M102.2,178.6V187.5M102.9,178.6V190.1M112.0,178.7V189.8M112.7,178.7V191.9M114.8,178.7V189.2M119.0,178.7V183.9M122.5,178.7V190.0M123.2,178.7V167.7M124.6,178.7V168.3M126.0,178.8V184.3M130.2,178.8V188.9M132.3,178.8V191.2M137.9,178.8V190.4M143.5,178.9V191.0M151.9,178.9V188.0M154.7,179.0V190.8M158.9,179.0V187.7M160.3,179.0V186.2M161.0,179.0V192.9M162.4,178.9V190.7M168.7,178.8V189.1M170.1,178.7V186.8M171.5,178.7V187.8M172.2,178.7V190.3M181.3,178.5V189.3M182.7,178.4V188.2M184.8,178.4V171.4M202.3,177.8V186.5M203.0,177.7V186.8M205.8,177.4V183.3M207.2,177.3V189.4M215.6,176.4V169.7M233.8,175.3V185.2M246.4,175.0V168.3M255.5,175.0V183.2M259.0,175.0V164.6M260.4,175.0V163.1M263.9,175.2V164.0M266.7,175.3V187.4M269.5,175.5V163.6M270.2,175.5V166.6M277.2,175.9V164.3M296.1,176.5V165.4M298.2,176.5V186.5M301.7,176.5V166.2M310.8,176.5V167.9M317.1,176.3V167.3"/><polyline stroke="#1a901a" points="41.5,185.7 41.7,190.3 41.9,185.0 42.1,185.3 42.3,181.8 42.5,179.2 42.7,179.0 42.9,182.5 43.1,181.2 43.3,178.7 43.5,180.6 43.7,172.8 43.9,184.0 44.1,176.5 44.3,172.8 44.5,178.7 44.7,175.9 44.9,180.8 45.1,180.6 45.3,172.9 45.5,173.1 45.7,176.3 45.9,176.2 46.1,178.7 46.3,177.9 46.5,181.5 46.7,180.5 46.9,180.6 47.1,179.0 47.3,180.8 47.5,180.9 47.7,177.1 47.9,179.6 48.1,178.4 48.3,176.9 48.5,176.7 48.7,182.0 48.9,174.5 49.1,174.7 49.3,181.3 49.5,174.3 49.7,175.2 49.9,174.6 50.1,176.1 50.3,176.7 50.5,180.0 50.7,179.5 50.9,179.3 51.1,174.7 51.3,176.8 51.5,187.3 51.7,179.0 51.9,177.3 52.1,180.0 52.3,175.5 52.5,184.5 52.7,170.9 52.9,178.2 53.1,176.9 53.3,176.1 53.5,181.6 53.7,175.7 53.9,179.2 54.1,176.4 54.3,178.1 54.5,180.1 54.7,180.5 54.9,178.6 55.1,177.8 55.3,177.9 55.5,174.8 55.7,178.4 55.9,176.8 56.1,178.5 56.3,178.8 56.5,176.4 56.7,179.3 56.9,178.3 57.1,183.4 57.3,172.7 57.5,181.1 57.7,181.2 57.9,182.3 58.1,177.6 58.3,179.7 58.5,180.3 58.7,178.5 58.9,176.4 59.1,180.7 59.3,176.8 59.5,174.9 59.7,176.5 59.9,179.0 60.1,178.9 60.3,176.0 60.5,177.6 60.7,178.7 60.9,178.4 61.1,181.0 61.3,180.4 61.5,178.9 61.7,175.6 61.9,177.6 62.1,176.0 62.3,175.1 62.5,185.6 62.7,182.8 62.9,175.4 63.1,175.2 63.3,183.0 63.5,179.5 63.7,176.0 63.9,176.1 64.1,178.2 64.3,176.4 64.5,177.6 64.7,179.1 64.9,180.9 65.1,178.5 65.3,179.0 65.5,180.1 65.7,176.1 65.9,178.9 66.1,181.9 66.3,178.5 66.5,177.9 66.7,178.8 66.9,176.9 67.1,179.7 67.3,177.2 67.5,178.2 67.7,181.0 67.9,178.2 68.1,175.9 68.3,177.3 68.5,175.7 68.7,182.4 68.9,181.2 69.1,179.8 69.3,174.9 69.5,176.5 69.7,177.1 69.9,177.4 70.1,177.6 70.3,174.0 70.5,177.8 70.7,179.2 70.9,175.6 71.1,180.5 71.3,177.1 71.5,175.7 71.7,173.5 71.9,180.5 72.1,179.4 72.3,179.6 72.5,171.4 72.7,174.5 72.9,176.6 73.1,179.4 73.3,179.8 73.5,179.6 73.7,183.5 73.9,179.2 74.1,178.0 74.3,180.3 74.5,179.1 74.7,181.8 74.9,178.6 75.1,173.8 75.3,176.3 75.5,176.9 75.7,174.2 75.9,181.3 76.1,179.3 76.3,178.5 76.5,176.8 76.7,176.7 76.9,179.1 77.1,173.5 77.3,176.6 77.5,181.0 77.7,180.2 77.9,180.0 78.1,177.9 78.3,177.9 78.5,179.3 78.7,177.4 78.9,175.4 79.1,178.5 79.3,189.7 79.5,179.2 79.7,178.9 79.9,176.0 80.1,186.2 80.3,178.4 80.5,179.6 80.7,175.8 80.9,181.2 81.1,178.2 81.3,175.4 81.5,179.3 81.7,175.4 81.9,174.3 82.1,177.0 82.3,182.4 82.5,178.9 82.7,177.7 82.9,181.2 83.1,175.9 83.3,176.7 83.5,174.6 83.7,177.5 83.9,180.6 84.1,176.5 84.3,178.5 84.5,180.8 84.7,180.4 84.9,179.0 85.1,179.2 85.3,177.3 85.5,177.7 85.7,178.1 85.9,178.1 86.1,175.5 86.3,177.6 86.5,176.1 86.7,174.6 86.9,181.1 87.1,183.6 87.3,181.6 87.5,181.0 87.7,177.4 87.9,179.4 88.1,175.3 88.3,173.8 88.5,181.1 88.7,182.7 88.9,179.4 89.1,172.6 89.3,178.5 89.5,178.4 89.7,178.1 89.9,176.5 90.1,173.0 90.3,177.1 90.5,177.5 90.7,178.3 90.9,177.7 91.1,177.8 91.3,178.2 91.5,177.6 91.7,173.8 91.9,180.5 92.1,181.0 92.3,179.6 92.5,179.8 92.7,177.8 92.9,175.6 93.1,177.1 93.3,178.4 93.5,177.6 93.7,180.9 93.9,177.0 94.1,179.1 94.3,178.2 94.5,182.2 94.7,178.1 94.9,181.3 95.1,182.5 95.3,178.6 95.5,178.7 95.7,181.0 95.9,181.6 96.1,182.1 96.3,179.4 96.5,177.8 96.7,176.0 96.9,174.3 97.1,180.4 97.3,176.8 97.5,177.3 97.7,172.9 97.9,175.9 98.1,182.5 98.3,180.7 98.5,176.4 98.7,177.8 98.9,178.2 99.1,177.6 99.3,182.6 99.5,179.6 99.7,181.4 99.9,176.4 100.1,184.4 100.3,177.8 100.5,179.0 100.7,180.9 100.9,180.8 101.1,179.0 101.3,178.4 101.5,179.7 101.7,175.0 101.9,179.6 102.1,177.9 102.3,180.8 102.5,181.7 102.7,178.6 102.9,183.2 103.1,184.2 103.3,182.5 103.5,175.6 103.7,182.4 103.9,178.4 104.1,178.3 104.3,184.3 104.5,176.6 104.7,178.7 104.9,179.7 105.1,177.8 105.3,181.4 105.5,175.9 105.7,174.9 105.9,179.8 106.1,179.6 106.3,181.4 106.5,180.4 106.7,177.5 106.9,178.5 107.1,176.3 107.3,179.1 107.5,177.4 107.7,179.4 107.9,177.8 108.1,178.7 108.3,176.0 108.5,182.0 108.7,176.8 108.9,181.0 109.1,179.7 109.3,178.3 109.5,182.4 109.7,176.8 109.9,178.4 110.1,177.5 110.3,175.9 110.5,178.8 110.7,180.3 110.9,176.8 111.1,179.3 111.3,180.4 111.5,177.3 111.7,180.0 111.9,178.5 112.1,180.1 112.3,179.7 112.5,180.0 112.7,178.6 112.9,180.6 113.1,181.2 113.3,180.2 113.5,178.3 113.7,178.9 113.9,178.7 114.1,179.5 114.3,177.5 114.5,179.4 114.7,184.4 114.9,177.3 115.1,177.8 115.3,179.1 115.5,175.5 115.7,181.0 115.9,181.0 116.1,176.9 116.3,175.6 116.5,179.1 116.7,178.4 116.9,176.3 117.1,180.3 117.3,176.1 117.5,177.0 117.7,179.7 117.9,181.2 118.1,177.4 118.3,175.1 118.5,180.6 118.7,178.1 118.9,181.0 119.1,178.3 119.3,178.1 119.5,183.6 119.7,175.6 119.9,182.2 120.1,175.1 120.3,176.9 120.5,178.1 120.7,179.4 120.9,181.5 121.1,178.9 121.3,178.7 121.5,181.0 121.7,177.3 121.9,178.4 122.1,175.8 122.3,180.6 122.5,180.0 122.7,174.8 122.9,179.1 123.1,179.4 123.3,179.6 123.5,178.1 123.7,178.6 123.9,176.6 124.1,176.4 124.3,176.9 124.5,178.0 124.7,183.4 124.9,179.9 125.1,174.6 125.3,174.9 125.5,181.5 125.7,180.3 125.9,179.6 126.1,178.2 126.3,180.4 126.5,178.1 126.7,177.1 126.9,177.7 127.1,177.2 127.3,180.2 127.5,179.0 127.7,180.1 127.9,179.5 128.1,177.7 128.3,175.4 128.5,185.4 128.7,176.0 128.9,177.6 129.1,176.6 129.3,178.6 129.5,178.7 129.7,176.1 129.9,182.7 130.1,173.0 130.3,178.2 130.5,180.0 130.7,181.8 130.9,177.1 131.1,176.8 131.3,180.0 131.5,177.8 131.7,176.2 131.9,180.3 132.1,179.3 132.3,178.9 132.5,181.2 132.7,178.4 132.9,178.1 133.1,180.6 133.3,176.8 133.5,177.3 133.7,176.8 133.9,181.8 134.1,176.3 134.3,178.3 134.5,180.1 134.7,176.1 134.9,175.1 135.1,177.5 135.3,174.3 135.5,182.8 135.7,175.6 135.9,181.2 136.1,180.4 136.3,178.9 136.5,179.5 136.7,176.5 136.9,179.5 137.1,177.4 137.3,178.3 137.5,180.8 137.7,178.6 137.9,177.7 138.1,178.0 138.3,174.4 138.5,177.1 138.7,175.8 138.9,177.2 139.1,176.4 139.3,177.8 139.5,179.6 139.7,179.5 139.9,178.9 140.1,182.2 140.3,182.9 140.5,179.6 140.7,179.1 140.9,178.6 141.1,183.2 141.3,180.1 141.5,182.2 141.7,177.7 141.9,174.2 142.1,182.8 142.3,176.4 142.5,180.3 142.7,182.4 142.9,178.7 143.1,179.5 143.3,178.7 143.5,180.3 143.7,179.8 143.9,180.1 144.1,178.5 144.3,184.1 144.5,184.2 144.7,180.6 144.9,177.1 145.1,177.5 145.3,177.3 145.5,177.3 145.7,178.0 145.9,178.9 146.1,181.5 146.3,179.1 146.5,180.7 146.7,180.7 146.9,181.4 147.1,184.8 147.3,177.8 147.5,179.5 147.7,176.9 147.9,179.6 148.1,181.5 148.3,177.4 148.5,178.5 148.7,177.1 148.9,179.1 149.1,176.3 149.3,181.3 149.5,179.6 149.7,179.5 149.9,176.2 150.1,179.3 150.3,179.2 150.5,180.2 150.7,189.3 150.9,177.9 151.1,178.5 151.3,181.7 151.5,180.5 151.7,181.9 151.9,177.7 152.1,181.2 152.3,182.5 152.5,178.4 152.7,180.5 152.9,175.4 153.1,178.1 153.3,181.7 153.5,179.5 153.7,180.1 153.9,182.1 154.1,178.3 154.3,176.8 154.5,179.3 154.7,184.7 154.9,173.9 155.1,181.0 155.3,181.1 155.5,175.4 155.7,178.8 155.9,177.1 156.1,176.4 156.3,179.9 156.5,177.6 156.7,179.1 156.9,178.6 157.1,180.9 157.3,182.1 157.5,180.3 157.7,179.7 157.9,177.8 158.1,177.2 158.3,179.8 158.5,181.1 158.7,180.6 158.9,177.6 159.1,180.1 159.3,180.8 159.5,177.8 159.7,178.8 159.9,182.3 160.1,181.0 160.3,179.6 160.5,181.9 160.7,178.9 160.9,182.0 161.1,180.4 161.3,181.2 161.5,177.3 161.7,180.7 161.9,178.1 162.1,178.3 162.3,179.5 162.5,179.2 162.7,176.4 162.9,177.5 163.1,178.6 163.3,176.9 163.5,180.6 163.7,178.2 163.9,174.4 164.1,180.4 164.3,177.8 164.5,183.5 164.7,180.3 164.9,175.8 165.1,180.9 165.3,179.1 165.5,180.0 165.7,180.6 165.9,178.1 166.1,176.7 166.3,178.3 166.5,177.4 166.7,176.6 166.9,177.4 167.1,182.8 167.3,180.4 167.5,179.6 167.7,173.7 167.9,179.2 168.1,178.0 168.3,175.6 168.5,178.4 168.7,176.3 168.9,181.4 169.1,176.6 169.3,177.6 169.5,182.5 169.7,178.4 169.9,178.0 170.1,181.5 170.3,176.6 170.5,179.8 170.7,178.3 170.9,177.7 171.1,176.5 171.3,175.8 171.5,175.7 171.7,182.3 171.9,181.2 172.1,178.0 172.3,180.2 172.5,176.0 172.7,178.4 172.9,180.2 173.1,178.4 173.3,179.0 173.5,179.5 173.7,181.8 173.9,181.7 174.1,177.5 174.3,178.4 174.5,177.0 174.7,177.5 174.9,177.4 175.1,177.5 175.3,178.4 175.5,175.8 175.7,178.4 175.9,179.8 176.1,179.5 176.3,175.0 176.5,177.1 176.7,181.0 176.9,179.2 177.1,176.0 177.3,180.6 177.5,179.9 177.7,175.4 177.9,182.5 178.1,179.1 178.3,180.7 178.5,177.8 178.7,179.3 178.9,178.5 179.1,178.5 179.3,178.3 179.5,176.0 179.7,175.9 179.9,178.9 180.1,177.9 180.3,178.8 180.5,176.0 180.7,178.6 180.9,181.7 181.1,178.7 181.3,176.5 181.5,177.3 181.7,180.4 181.9,175.2 182.1,177.0 182.3,175.4 182.5,177.5 182.7,182.5 182.9,177.3 183.1,177.1 183.3,178.0 183.5,175.2 183.7,182.5 183.9,177.5 184.1,181.2 184.3,177.2 184.5,177.6 184.7,174.2 184.9,179.7 185.1,174.4 185.3,180.9 185.5,178.8 185.7,177.4 185.9,181.0 186.1,182.0 186.3,177.1 186.5,178.4 186.7,177.8 186.9,182.0 187.1,181.7 187.3,178.0 187.5,179.0 187.7,177.0 187.9,178.7 188.1,174.9 188.3,181.6 188.5,177.5 188.7,178.6 188.9,176.4 189.1,174.3 189.3,179.7 189.5,177.5 189.7,180.2 189.9,179.3 190.1,179.1 190.3,179.6 190.5,180.1 190.7,178.7 190.9,177.8 191.1,179.5 191.3,178.1 191.5,175.6 191.7,177.3 191.9,179.0 192.1,174.3 192.3,176.7 192.5,178.7 192.7,179.9 192.9,176.6 193.1,178.0 193.3,177.2 193.5,182.2 193.7,177.0 193.9,174.7 194.1,179.8 194.3,177.4 194.5,181.0 194.7,180.7 194.9,174.8 195.1,178.6 195.3,180.1 195.5,180.2 195.7,176.9 195.9,179.4 196.1,180.2 196.3,177.4 196.5,179.5 196.7,178.8 196.9,179.1 197.1,176.3 197.3,181.2 197.5,178.1 197.7,180.2 197.9,179.2 198.1,174.9 198.3,179.8 198.5,177.2 198.7,173.4 198.9,176.7 199.1,178.0 199.3,176.8 199.5,180.4 199.7,176.9 199.9,181.2 200.1,175.6 200.3,179.3 200.5,180.2 200.7,177.5 200.9,179.7 201.1,176.6 201.3,177.7 201.5,175.5 201.7,179.4 201.9,177.6 202.1,182.0 202.3,179.1 202.5,179.6 202.7,176.4 202.9,172.1 203.1,178.9 203.3,177.1 203.5,173.2 203.7,177.0 203.9,174.7 204.1,177.4 204.3,176.8 204.5,179.9 204.7,180.0 204.9,175.7 205.1,177.8 205.3,174.6 205.5,177.8 205.7,179.8 205.9,175.3 206.1,175.8 206.3,177.2 206.5,174.2 206.7,179.9 206.9,182.4 207.1,176.3 207.3,175.2 207.5,180.0 207.7,176.6 207.9,181.9 208.1,175.9 208.3,179.5 208.5,175.6 208.7,173.6 208.9,175.2 209.1,178.5 209.3,176.5 209.5,179.3 209.7,178.1 209.9,178.4 210.1,174.6 210.3,175.0 210.5,179.8 210.7,174.6 210.9,180.8 211.1,175.5 211.3,174.2 211.5,175.0 211.7,177.3 211.9,175.3 212.1,174.9 212.3,175.4 212.5,173.1 212.7,178.0 212.9,176.5 213.1,176.2 213.3,178.5 213.5,178.4 213.7,177.0 213.9,175.7 214.1,173.8 214.3,178.6 214.5,179.9 214.7,178.3 214.9,176.9 215.1,180.0 215.3,176.8 215.5,177.1 215.7,180.6 215.9,176.4 216.1,174.1 216.3,173.3 216.5,178.9 216.7,177.0 216.9,175.0 217.1,178.8 217.3,175.3 217.5,176.2 217.7,178.7 217.9,174.6 218.1,179.3 218.3,179.9 218.5,180.4 218.7,176.0 218.9,174.4 219.1,177.0 219.3,177.0 219.5,178.0 219.7,172.9 219.9,176.3 220.1,175.2 220.3,173.5 220.5,175.1 220.7,178.3 220.9,175.6 221.1,176.5 221.3,175.6 221.5,175.3 221.7,174.3 221.9,176.2 222.1,178.0 222.3,178.1 222.5,173.6 222.7,176.0 222.9,177.8 223.1,176.5 223.3,176.1 223.5,179.4 223.7,177.1 223.9,173.4 224.1,178.2 224.3,174.3 224.5,175.3 224.7,170.4 224.9,175.5 225.1,173.6 225.3,176.0 225.5,176.1 225.7,172.5 225.9,178.7 226.1,172.6 226.3,176.3 226.5,178.2 226.7,173.2 226.9,172.3 227.1,177.0 227.3,175.9 227.5,174.9 227.7,177.8 227.9,175.1 228.1,173.8 228.3,174.7 228.5,172.4 228.7,173.4 228.9,174.1 229.1,173.7 229.3,176.3 229.5,172.6 229.7,172.5 229.9,175.6 230.1,177.9 230.3,173.9 230.5,177.1 230.7,176.5 230.9,174.1 231.1,177.6 231.3,177.3 231.5,176.8 231.7,172.4 231.9,173.7 232.1,178.8 232.3,175.3 232.5,177.5 232.7,174.2 232.9,178.0 233.1,176.4 233.3,177.3 233.5,175.9 233.7,170.8 233.9,176.7 234.1,175.5 234.3,172.8 234.5,175.2 234.7,178.6 234.9,176.3 235.1,175.1 235.3,175.2 235.5,171.2 235.7,174.0 235.9,175.7 236.1,177.2 236.3,173.5 236.5,175.8 236.7,173.3 236.9,175.1 237.1,174.6 237.3,173.8 237.5,175.9 237.7,175.4 237.9,174.7 238.1,172.7 238.3,174.6 238.5,175.0 238.7,173.9 238.9,174.1 239.1,175.1 239.3,174.0 239.5,175.9 239.7,175.1 239.9,176.0 240.1,175.0 240.3,175.4 240.5,173.4 240.7,179.0 240.9,175.7 241.1,177.0 241.3,171.9 241.5,174.0 241.7,175.7 241.9,176.4 242.1,177.5 242.3,175.4 242.5,171.2 242.7,175.7 242.9,174.2 243.1,176.5 243.3,173.9 243.5,175.1 243.7,173.6 243.9,174.6 244.1,173.5 244.3,170.8 244.5,176.3 244.7,177.9 244.9,175.6 245.1,175.7 245.3,174.3 245.5,172.9 245.7,173.0 245.9,176.2 246.1,175.3 246.3,173.4 246.5,176.1 246.7,176.5 246.9,176.1 247.1,175.8 247.3,174.5 247.5,177.6 247.7,173.6 247.9,171.8 248.1,168.2 248.3,176.9 248.5,174.3 248.7,177.3 248.9,172.4 249.1,171.8 249.3,174.5 249.5,175.6 249.7,173.7 249.9,179.0 250.1,174.2 250.3,173.8 250.5,171.6 250.7,174.3 250.9,175.4 251.1,176.1 251.3,173.6 251.5,181.0 251.7,173.8 251.9,173.0 252.1,174.1 252.3,179.8 252.5,172.3 252.7,172.8 252.9,179.4 253.1,174.3 253.3,174.3 253.5,174.2 253.7,175.6 253.9,175.0 254.1,178.4 254.3,175.7 254.5,175.8 254.7,174.1 254.9,174.3 255.1,172.5 255.3,173.4 255.5,173.6 255.7,175.5 255.9,174.4 256.1,171.9 256.3,174.2 256.5,179.0 256.7,178.2 256.9,174.4 257.1,173.4 257.3,171.4 257.5,173.9 257.7,177.4 257.9,176.5 258.1,174.5 258.3,175.9 258.5,178.3 258.7,173.4 258.9,175.5 259.1,173.6 259.3,174.0 259.5,179.5 259.7,172.7 259.9,176.0 260.1,176.3 260.3,175.9 260.5,177.5 260.7,177.9 260.9,173.6 261.1,173.7 261.3,174.1 261.5,172.3 261.7,175.0 261.9,172.3 262.1,176.2 262.3,175.7 262.5,172.9 262.7,177.7 262.9,178.5 263.1,175.7 263.3,175.0 263.5,174.8 263.7,177.0 263.9,177.9 264.1,175.5 264.3,174.3 264.5,170.0 264.7,177.2 264.9,176.4 265.1,174.4 265.3,179.1 265.5,174.2 265.7,176.5 265.9,173.8 266.1,173.2 266.3,179.0 266.5,176.8 266.7,179.5 266.9,174.3 267.1,175.3 267.3,171.9 267.5,176.6 267.7,170.7 267.9,176.3 268.1,176.6 268.3,177.4 268.5,177.1 268.7,172.5 268.9,170.8 269.1,179.7 269.3,176.9 269.5,176.6 269.7,176.9 269.9,173.7 270.1,176.5 270.3,177.6 270.5,175.2 270.7,174.4 270.9,177.4 271.1,177.0 271.3,176.7 271.5,172.0 271.7,177.3 271.9,175.5 272.1,173.8 272.3,173.1 272.5,177.7 272.7,176.6 272.9,176.6 273.1,175.7 273.3,178.4 273.5,177.3 273.7,176.0 273.9,176.6 274.1,176.8 274.3,176.0 274.5,173.7 274.7,176.6 274.9,175.5 275.1,172.5 275.3,176.5 275.5,175.9 275.7,175.4 275.9,176.5 276.1,175.8 276.3,178.5 276.5,174.2 276.7,173.8 276.9,175.6 277.1,172.8 277.3,172.0 277.5,176.7 277.7,177.0 277.9,174.3 278.1,179.0 278.3,173.5 278.5,178.6 278.7,177.9 278.9,175.4 279.1,175.5 279.3,174.4 279.5,174.3 279.7,177.2 279.9,178.3 280.1,178.4 280.3,179.0 280.5,178.7 280.7,176.2 280.9,175.5 281.1,177.3 281.3,177.6 281.5,179.5 281.7,176.2 281.9,176.8 282.1,178.3 282.3,176.4 282.5,176.3 282.7,179.1 282.9,180.5 283.1,175.2 283.3,177.1 283.5,175.7 283.7,176.4 283.9,176.6 284.1,174.8 284.3,178.0 284.5,175.1 284.7,178.8 284.9,176.0 285.1,178.4 285.3,175.7 285.5,173.9 285.7,175.2 285.9,174.9 286.1,177.4 286.3,177.4 286.5,176.1 286.7,176.2 286.9,176.1 287.1,176.9 287.3,177.7 287.5,175.8 287.7,179.2 287.9,177.0 288.1,176.5 288.3,173.8 288.5,177.3 288.7,176.8 288.9,177.6 289.1,179.2 289.3,177.7 289.5,174.7 289.7,175.6 289.9,177.3 290.1,175.6 290.3,176.0 290.5,177.1 290.7,174.1 290.9,175.7 291.1,175.7 291.3,173.8 291.5,177.7 291.7,176.8 291.9,177.8 292.1,180.3 292.3,174.6 292.5,186.6 292.7,175.1 292.9,175.0 293.1,175.8 293.3,177.9 293.5,178.3 293.7,178.9 293.9,180.0 294.1,177.2 294.3,176.6 294.5,173.5 294.7,173.7 294.9,177.3 295.1,178.1 295.3,175.1 295.5,175.7 295.7,175.1 295.9,175.8 296.1,178.7 296.3,176.6 296.5,174.1 296.7,174.6 296.9,176.9 297.1,175.8 297.3,175.2 297.5,177.6 297.7,176.4 297.9,177.2 298.1,177.7 298.3,177.6 298.5,180.4 298.7,173.2 298.9,179.0 299.1,178.5 299.3,174.4 299.5,175.5 299.7,176.3 299.9,176.2 300.1,173.5 300.3,175.3 300.5,178.6 300.7,178.6 300.9,172.6 301.1,173.6 301.3,177.7 301.5,176.2 301.7,180.6 301.9,178.7 302.1,175.5 302.3,172.0 302.5,178.0 302.7,178.1 302.9,180.4 303.1,178.3 303.3,178.8 303.5,178.7 303.7,175.1 303.9,173.1 304.1,177.0 304.3,176.7 304.5,177.4 304.7,177.4 304.9,178.4 305.1,176.1 305.3,179.0 305.5,177.5 305.7,178.4 305.9,178.0 306.1,175.9 306.3,175.7 306.5,176.8 306.7,173.0 306.9,175.5 307.1,174.8 307.3,174.2 307.5,177.1 307.7,177.3 307.9,173.6 308.1,177.2 308.3,178.0 308.5,175.6 308.7,176.0 308.9,177.9 309.1,178.2 309.3,178.0 309.5,178.0 309.7,176.5 309.9,176.2 310.1,175.1 310.3,177.5 310.5,176.5 310.7,174.7 310.9,175.5 311.1,179.1 311.3,177.5 311.5,174.3 311.7,177.2 311.9,177.2 312.1,178.1 312.3,174.1 312.5,173.5 312.7,174.0 312.9,174.3 313.1,176.0 313.3,176.0 313.5,177.5 313.7,179.2 313.9,177.9 314.1,176.9 314.3,173.9 314.5,172.2 314.7,175.2 314.9,174.0 315.1,174.4 315.3,179.6 315.5,177.2 315.7,172.1 315.9,175.8 316.1,177.5 316.3,174.3 316.5,176.0 316.7,175.0 316.9,174.2 317.1,174.5 317.3,174.8 317.5,176.2 317.7,176.9 317.9,175.7 318.1,177.9 318.3,175.6 318.5,175.7 318.7,174.1 318.9,175.5 319.1,176.6 319.3,177.0 319.5,173.6 319.7,180.8 319.9,177.0 320.1,172.7 320.3,176.5 320.5,176.6 320.7,177.7 320.9,172.5 321.1,174.7 321.3,178.2 321.5,174.6 321.7,175.8 321.9,174.5 322.1,174.1 322.3,177.6 322.5,179.6 322.7,177.4 322.9,175.4 323.1,177.6 323.3,175.9 323.5,180.6 323.7,175.8 323.9,176.3 324.1,177.2 324.3,176.3 324.5,177.4 324.7,176.3 324.9,174.9 325.1,177.2 325.3,178.7 325.5,177.5 325.7,175.7 325.9,175.2 326.1,174.6 326.3,175.5 326.5,176.2 326.7,178.9 326.9,176.6 327.1,176.1 327.3,178.7 327.5,174.3 327.7,176.4 327.9,178.2 328.1,179.1 328.3,175.0 328.5,170.8 328.7,175.8 328.9,174.7 329.1,173.2 329.3,176.0 329.5,173.2 329.7,175.2 329.9,178.6 330.1,175.6 330.3,177.6 330.5,176.2 330.7,177.7 330.9,174.9 331.1,174.3 331.3,175.6 331.5,174.6 331.7,172.9 331.9,177.7 332.1,175.5 332.3,176.0 332.5,176.8 332.7,177.1 332.9,177.6 333.1,180.7 333.3,177.3 333.5,177.0 333.7,176.3 333.9,176.0 334.1,179.5 334.3,173.4 334.5,175.0 334.7,177.5 334.9,174.3 335.1,174.0 335.3,175.2 335.5,176.9 335.7,179.6 335.9,176.0 336.1,176.6 336.3,179.8 336.5,177.3 336.7,177.9 336.9,173.5 337.1,174.0 337.3,176.6 337.5,174.0 337.7,174.7 337.9,173.9 338.1,176.9 338.3,176.4 338.5,176.9 338.7,176.3"/><polyline stroke="#000" stroke-width="1.15" points="41.5,151.6 41.8,158.6 42.0,160.5 42.2,153.3 42.5,148.8 42.8,150.1 43.0,146.1 43.2,141.6 43.5,141.0 43.8,141.3 44.0,142.0 44.2,138.9 44.5,137.0 44.8,137.3 45.0,139.0 45.2,138.0 45.5,140.4 45.8,141.5 46.0,143.9 46.2,140.3 46.5,142.0 46.8,137.7 47.0,140.8 47.2,138.4 47.5,136.0 47.8,136.0 48.0,136.7 48.2,133.4 48.5,135.1 48.8,135.1 49.0,134.3 49.2,133.3 49.5,126.6 49.8,128.7 50.0,125.7 50.2,127.8 50.5,127.1 50.8,128.8 51.0,130.7 51.2,130.1 51.5,132.9 51.8,133.9 52.0,142.0 52.2,139.6 52.5,143.2 52.8,141.9 53.0,144.3 53.2,147.5 53.5,152.6 53.8,154.5 54.0,163.4 54.2,173.5 54.5,190.2 54.8,191.1 55.0,176.4 55.2,164.0 55.5,153.6 55.8,150.4 56.0,146.1 56.2,140.8 56.5,140.2 56.8,137.9 57.0,134.9 57.2,128.8 57.5,133.1 57.8,136.0 58.0,133.3 58.2,135.9 58.5,137.9 58.8,140.6 59.0,135.8 59.2,138.0 59.5,140.0 59.8,140.4 60.0,136.4 60.2,142.5 60.5,137.0 60.8,140.8 61.0,139.3 61.2,141.5 61.5,145.0 61.8,144.2 62.0,142.7 62.2,139.7 62.5,139.7 62.8,137.5 63.0,143.6 63.2,134.4 63.5,130.3 63.8,136.5 64.0,133.7 64.2,128.2 64.5,128.2 64.8,122.5 65.0,120.6 65.2,120.3 65.5,118.4 65.8,115.1 66.0,117.7 66.2,114.4 66.5,112.8 66.8,111.6 67.0,115.7 67.2,116.2 67.5,118.1 67.8,123.0 68.0,124.4 68.2,130.3 68.5,135.5 68.8,138.6 69.0,145.8 69.2,141.2 69.5,147.9 69.8,149.0 70.0,152.6 70.2,156.2 70.5,146.3 70.8,147.5 71.0,147.8 71.2,144.2 71.5,143.5 71.8,136.2 72.0,138.8 72.2,133.0 72.5,131.9 72.8,134.9 73.0,134.2 73.2,131.3 73.5,132.6 73.8,135.7 74.0,138.0 74.2,139.6 74.5,139.8 74.8,139.6 75.0,149.1 75.2,149.2 75.5,148.7 75.8,148.9 76.0,150.4 76.2,150.7 76.5,147.1 76.8,153.9 77.0,149.8 77.2,145.7 77.5,144.4 77.8,141.6 78.0,141.1 78.2,137.8 78.5,138.6 78.8,137.7 79.0,132.6 79.2,132.4 79.5,132.6 79.8,134.9 80.0,135.0 80.2,137.1 80.5,137.1 80.8,137.0 81.0,133.6 81.2,139.0 81.5,137.2 81.8,138.6 82.0,138.9 82.2,137.0 82.5,142.5 82.8,139.9 83.0,147.2 83.2,146.7 83.5,151.4 83.8,151.4 84.0,153.3 84.2,156.5 84.5,155.8 84.8,161.2 85.0,160.2 85.2,162.6 85.5,159.9 85.8,161.5 86.0,161.0 86.2,157.0 86.5,153.7 86.8,154.6 87.0,154.0 87.2,151.6 87.5,148.8 87.8,148.1 88.0,147.9 88.2,142.1 88.5,145.1 88.8,148.1 89.0,141.6 89.2,142.4 89.5,144.9 89.8,141.7 90.0,140.9 90.2,138.2 90.5,135.4 90.8,143.3 91.0,138.9 91.2,141.5 91.5,147.0 91.8,148.1 92.0,149.7 92.2,150.5 92.5,154.5 92.8,155.1 93.0,154.6 93.2,153.0 93.5,150.3 93.8,149.6 94.0,146.6 94.2,146.7 94.5,146.0 94.8,143.5 95.0,145.0 95.2,150.3 95.5,150.6 95.8,144.0 96.0,143.1 96.2,142.5 96.5,139.6 96.8,144.5 97.0,141.1 97.2,142.6 97.5,150.7 97.8,152.3 98.0,150.4 98.2,152.9 98.5,152.6 98.8,144.8 99.0,141.7 99.2,140.9 99.5,140.6 99.8,138.3 100.0,142.4 100.2,142.6 100.5,147.7 100.8,154.1 101.0,149.5 101.2,155.3 101.5,157.8 101.8,152.9 102.0,159.9 102.2,161.8 102.5,161.3 102.8,160.7 103.0,155.4 103.2,154.1 103.5,149.9 103.8,147.6 104.0,143.6 104.2,148.1 104.5,142.5 104.8,139.4 105.0,144.6 105.2,144.8 105.5,142.1 105.8,142.1 106.0,141.7 106.2,143.5 106.5,138.3 106.8,135.6 107.0,137.7 107.2,134.6 107.5,134.1 107.8,136.4 108.0,132.1 108.2,130.7 108.5,127.3 108.8,128.1 109.0,124.2 109.2,125.5 109.5,124.2 109.8,119.6 110.0,116.2 110.2,120.2 110.5,127.4 110.8,136.2 111.0,140.4 111.2,145.1 111.5,148.3 111.8,153.5 112.0,154.8 112.2,153.4 112.5,156.2 112.8,152.8 113.0,157.1 113.2,155.8 113.5,159.5 113.8,158.9 114.0,159.1 114.2,158.3 114.5,157.9 114.8,151.2 115.0,148.2 115.2,143.4 115.5,135.4 115.8,138.0 116.0,133.4 116.2,132.3 116.5,131.2 116.8,125.7 117.0,127.8 117.2,127.3 117.5,128.0 117.8,129.9 118.0,127.4 118.2,129.1 118.5,131.0 118.8,125.4 119.0,132.0 119.2,125.7 119.5,129.5 119.8,128.8 120.0,133.8 120.2,133.7 120.5,133.1 120.8,130.8 121.0,135.4 121.2,136.7 121.5,138.1 121.8,135.8 122.0,138.3 122.2,139.9 122.5,143.6 122.8,141.7 123.0,142.7 123.2,144.3 123.5,141.1 123.8,144.6 124.0,143.9 124.2,144.3 124.5,148.4 124.8,148.6 125.0,145.9 125.2,143.4 125.5,142.7 125.8,141.7 126.0,144.6 126.2,145.0 126.5,145.4 126.8,146.1 127.0,149.7 127.2,147.8 127.5,147.2 127.8,141.8 128.0,138.1 128.2,139.9 128.5,135.5 128.8,131.0 129.0,134.3 129.2,129.7 129.5,125.0 129.8,126.0 130.0,127.0 130.2,133.4 130.5,132.0 130.8,131.2 131.0,130.7 131.2,129.7 131.5,135.6 131.8,138.5 132.0,138.3 132.2,133.9 132.5,138.3 132.8,138.6 133.0,141.6 133.2,137.7 133.5,139.4 133.8,144.5 134.0,147.0 134.2,143.7 134.5,147.5 134.8,140.5 135.0,142.6 135.2,144.7 135.5,145.7 135.8,152.0 136.0,149.6 136.2,151.5 136.5,154.3 136.8,155.5 137.0,160.2 137.2,158.1 137.5,161.2 137.8,160.3 138.0,164.8 138.2,160.9 138.5,158.6 138.8,152.0 139.0,153.7 139.2,148.3 139.5,149.2 139.8,146.4 140.0,144.4 140.2,144.1 140.5,143.8 140.8,142.5 141.0,145.8 141.2,147.0 141.5,143.1 141.8,144.8 142.0,144.6 142.2,140.4 142.5,140.5 142.8,142.1 143.0,144.4 143.2,142.1 143.5,143.7 143.8,135.6 144.0,133.4 144.2,128.7 144.5,123.7 144.8,131.1 145.0,133.9 145.2,133.7 145.5,139.7 145.8,141.2 146.0,142.5 146.2,147.0 146.5,146.4 146.8,146.6 147.0,142.9 147.2,143.1 147.5,145.8 147.8,141.8 148.0,136.8 148.2,137.0 148.5,137.5 148.8,133.9 149.0,138.6 149.2,136.1 149.5,135.5 149.8,135.7 150.0,135.7 150.2,136.2 150.5,133.7 150.8,138.1 151.0,142.7 151.2,144.4 151.5,143.5 151.8,141.0 152.0,142.8 152.2,141.8 152.5,137.5 152.8,141.1 153.0,135.5 153.2,138.5 153.5,137.2 153.8,141.9 154.0,137.6 154.2,137.1 154.5,139.9 154.8,134.0 155.0,134.2 155.2,137.2 155.5,137.6 155.8,134.2 156.0,139.7 156.2,136.7 156.5,138.5 156.8,131.4 157.0,135.2 157.2,133.1 157.5,129.9 157.8,128.3 158.0,128.3 158.2,125.4 158.5,125.8 158.8,124.7 159.0,126.3 159.2,127.3 159.5,123.9 159.8,128.2 160.0,129.8 160.2,133.1 160.5,129.4 160.8,134.1 161.0,131.4 161.2,134.0 161.5,134.9 161.8,136.6 162.0,136.9 162.2,137.2 162.5,142.8 162.8,143.2 163.0,140.6 163.2,141.0 163.5,141.9 163.8,141.6 164.0,144.0 164.2,148.9 164.5,151.9 164.8,150.3 165.0,149.7 165.2,150.3 165.5,152.0 165.8,151.7 166.0,147.6 166.2,143.1 166.5,142.9 166.8,145.1 167.0,144.4 167.2,146.5 167.5,146.2 167.8,144.2 168.0,143.0 168.2,145.3 168.5,142.5 168.8,142.2 169.0,144.3 169.2,142.4 169.5,141.8 169.8,142.3 170.0,137.8 170.2,139.7 170.5,137.8 170.8,137.6 171.0,136.5 171.2,136.1 171.5,131.4 171.8,130.4 172.0,132.6 172.2,132.8 172.5,130.4 172.8,130.6 173.0,127.5 173.2,131.5 173.5,129.7 173.8,131.1 174.0,126.6 174.2,126.4 174.5,125.7 174.8,127.2 175.0,124.6 175.2,123.2 175.5,119.9 175.8,122.7 176.0,122.7 176.2,126.4 176.5,129.7 176.8,127.1 177.0,124.1 177.2,128.9 177.5,121.6 177.8,127.6 178.0,129.5 178.2,130.1 178.5,134.7 178.8,132.3 179.0,132.5 179.2,131.5 179.5,131.2 179.8,128.6 180.0,130.6 180.2,124.5 180.5,122.8 180.8,118.9 181.0,120.2 181.2,120.4 181.5,117.9 181.8,117.5 182.0,117.9 182.2,123.7 182.5,124.4 182.8,124.8 183.0,127.2 183.2,128.1 183.5,129.5 183.8,127.0 184.0,132.8 184.2,134.7 184.5,137.1 184.8,139.2 185.0,138.3 185.2,142.6 185.5,141.7 185.8,149.8 186.0,146.8 186.2,153.5 186.5,153.2 186.8,155.7 187.0,155.3 187.2,155.5 187.5,156.0 187.8,156.5 188.0,152.7 188.2,155.2 188.5,155.5 188.8,158.1 189.0,153.1 189.2,154.6 189.5,154.6 189.8,152.8 190.0,153.1 190.2,149.8 190.5,148.6 190.8,146.0 191.0,143.9 191.2,141.3 191.5,141.2 191.8,138.0 192.0,138.4 192.2,139.7 192.5,134.4 192.8,134.5 193.0,134.7 193.2,132.3 193.5,131.4 193.8,136.1 194.0,132.1 194.2,129.6 194.5,128.1 194.8,125.5 195.0,125.6 195.2,123.2 195.5,128.8 195.8,126.6 196.0,129.3 196.2,129.7 196.5,128.0 196.8,138.0 197.0,137.4 197.2,140.4 197.5,139.8 197.8,141.0 198.0,142.3 198.2,146.7 198.5,141.2 198.8,142.1 199.0,144.2 199.2,137.8 199.5,143.2 199.8,136.5 200.0,139.6 200.2,135.2 200.5,132.8 200.8,129.3 201.0,132.5 201.2,127.1 201.5,122.8 201.8,124.3 202.0,120.3 202.2,119.1 202.5,114.8 202.8,114.0 203.0,112.6 203.2,110.1 203.5,105.2 203.8,111.1 204.0,114.4 204.2,114.2 204.5,116.7 204.8,118.0 205.0,117.4 205.2,121.5 205.5,120.4 205.8,120.4 206.0,121.4 206.2,125.0 206.5,123.3 206.8,122.2 207.0,118.8 207.2,115.4 207.5,119.9 207.8,117.7 208.0,116.2 208.2,115.7 208.5,115.2 208.8,111.6 209.0,115.0 209.2,113.7 209.5,112.6 209.8,108.7 210.0,105.5 210.2,104.0 210.5,104.8 210.8,107.6 211.0,104.8 211.2,102.1 211.5,102.0 211.8,101.7 212.0,99.3 212.2,99.0 212.5,98.3 212.8,96.0 213.0,94.2 213.2,95.8 213.5,99.7 213.8,94.7 214.0,97.4 214.2,100.7 214.5,104.8 214.8,107.0 215.0,112.6 215.2,112.9 215.5,116.2 215.8,120.1 216.0,118.5 216.2,124.0 216.5,124.5 216.8,120.5 217.0,123.5 217.2,124.0 217.5,127.3 217.8,132.1 218.0,129.4 218.2,136.4 218.5,136.6 218.8,136.7 219.0,142.1 219.2,137.7 219.5,138.0 219.8,145.8 220.0,149.4 220.2,148.0 220.5,142.4 220.8,140.2 221.0,144.6 221.2,135.8 221.5,138.9 221.8,135.2 222.0,126.7 222.2,129.5 222.5,131.0 222.8,132.6 223.0,133.7 223.2,133.9 223.5,130.3 223.8,128.9 224.0,128.1 224.2,128.5 224.5,124.6 224.8,123.4 225.0,129.0 225.2,125.4 225.5,124.6 225.8,121.0 226.0,118.8 226.2,118.7 226.5,117.0 226.8,116.3 227.0,113.5 227.2,118.0 227.5,118.6 227.8,120.5 228.0,120.1 228.2,119.7 228.5,126.5 228.8,125.8 229.0,126.6 229.2,128.7 229.5,127.8 229.8,131.3 230.0,129.9 230.2,134.8 230.5,136.2 230.8,137.5"/></g><g stroke="#2a2a2a" stroke-width="1.15" fill="none"><path d="M41.5,5 H338.8 V224.5 H41.5 Z"/><path d="M41.50,224.5 v4.5 M41.50,5 v4.5 M78.66,224.5 v2.5 M78.66,5 v2.5 M115.83,224.5 v4.5 M115.83,5 v4.5 M152.99,224.5 v2.5 M152.99,5 v2.5 M190.15,224.5 v4.5 M190.15,5 v4.5 M227.31,224.5 v2.5 M227.31,5 v2.5 M264.48,224.5 v4.5 M264.48,5 v4.5 M301.64,224.5 v2.5 M301.64,5 v2.5 M338.80,224.5 v4.5 M338.80,5 v4.5 M41.5,224.50 h-4.5 M41.5,197.06 h-2.5 M41.5,169.62 h-4.5 M41.5,142.19 h-2.5 M41.5,114.75 h-4.5 M41.5,87.31 h-2.5 M41.5,59.87 h-4.5 M41.5,32.44 h-2.5 M41.5,5.00 h-4.5"/></g><text x="41.50" y="241.5" font-size="10.7" text-anchor="middle" font-family="Liberation Sans, sans-serif" stroke-width="0.35" fill="#000" stroke="#000">0</text><text x="115.83" y="241.5" font-size="10.7" text-anchor="middle" font-family="Liberation Sans, sans-serif" stroke-width="0.35" fill="#000" stroke="#000">500</text><text x="190.15" y="241.5" font-size="10.7" text-anchor="middle" font-family="Liberation Sans, sans-serif" stroke-width="0.35" fill="#000" stroke="#000">1000</text><text x="264.48" y="241.5" font-size="10.7" text-anchor="middle" font-family="Liberation Sans, sans-serif" stroke-width="0.35" fill="#000" stroke="#000">1500</text><text x="338.80" y="241.5" font-size="10.7" text-anchor="middle" font-family="Liberation Sans, sans-serif" stroke-width="0.35" fill="#000" stroke="#000">2000</text><text x="32.5" y="227.50" font-size="10.7" text-anchor="end" font-family="Liberation Sans, sans-serif" stroke-width="0.35" fill="#000" stroke="#000">0.0</text><text x="32.5" y="172.62" font-size="10.7" text-anchor="end" font-family="Liberation Sans, sans-serif" stroke-width="0.35" fill="#000" stroke="#000">0.1</text><text x="32.5" y="117.75" font-size="10.7" text-anchor="end" font-family="Liberation Sans, sans-serif" stroke-width="0.35" fill="#000" stroke="#000">0.2</text><text x="32.5" y="62.87" font-size="10.7" text-anchor="end" font-family="Liberation Sans, sans-serif" stroke-width="0.35" fill="#000" stroke="#000">0.3</text><text x="32.5" y="8.00" font-size="10.7" text-anchor="end" font-family="Liberation Sans, sans-serif" stroke-width="0.35" fill="#000" stroke="#000">0.4</text><text x="185.4" y="258.7" font-size="13" text-anchor="middle" font-family="Liberation Sans, sans-serif" fill="#000" stroke="#000" stroke-width="0.2">Time [s]</text><text transform="translate(9.8,118) rotate(-90)" x="0" y="0" font-size="12.75" text-anchor="middle" font-family="Liberation Sans, sans-serif" fill="#000" stroke="#000" stroke-width="0.15">Friction coefficient</text><text x="91" y="100.3" font-size="10.85" font-family="Liberation Sans, sans-serif" stroke-width="0.35" fill="#000" stroke="#000">MR#5 (bimodal)</text><text x="241" y="140.5" font-size="10.85" font-family="Liberation Sans, sans-serif" stroke-width="0.35" fill="#8b1010" stroke="#8b1010">MR#1 (no additive)</text><text x="50.8" y="207.6" font-size="10.85" font-family="Liberation Sans, sans-serif" stroke-width="0.35" fill="#1a901a" stroke="#1a901a">MR#2 (additive-1)</text><text x="161.9" y="200.0" font-size="10.68" font-family="Liberation Sans, sans-serif" stroke-width="0.35" fill="#f7821c" stroke="#f7821c">MR#3 (additive-2)</text><text x="236" y="216.1" font-size="10.85" font-family="Liberation Sans, sans-serif" stroke-width="0.35" fill="#181888" stroke="#181888">MR#4 (commercial)</text></svg></body></html>
